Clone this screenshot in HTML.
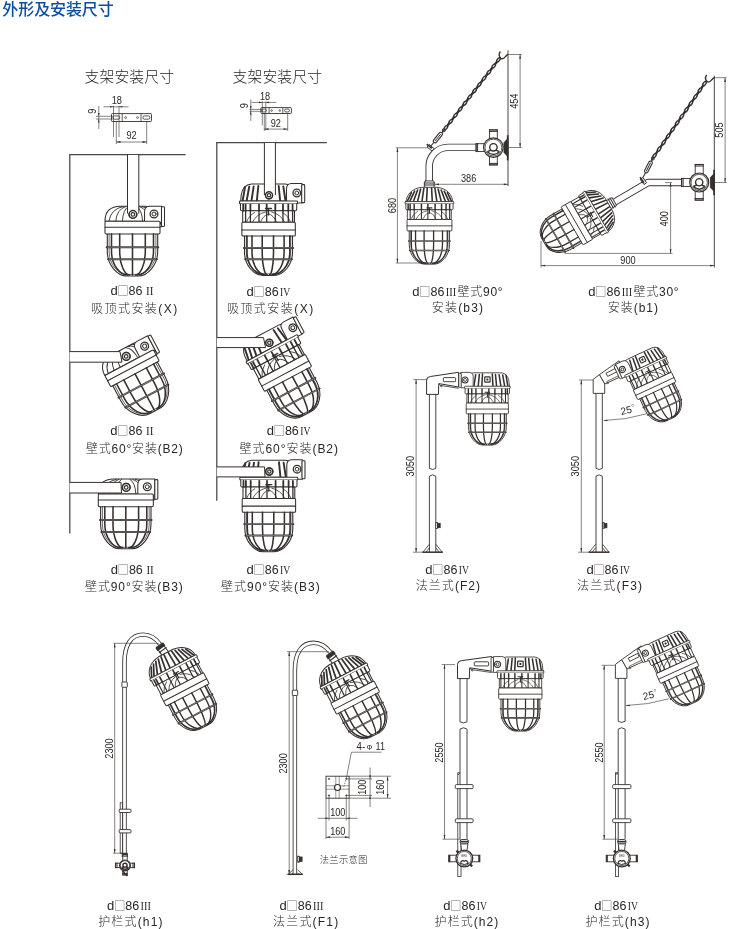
<!DOCTYPE html>
<html lang="zh"><head><meta charset="utf-8"><title>外形及安装尺寸</title>
<style>html,body{margin:0;padding:0;background:#fff}body{width:730px;height:929px;position:relative;overflow:hidden;font-family:"Liberation Sans","Noto Sans CJK SC",sans-serif}text{stroke:none}</style>
</head><body>
<svg width="730" height="929" viewBox="0 0 730 929" style="position:absolute;left:0;top:0;will-change:transform">
<g fill="none" stroke-linecap="butt">
<text x="2.30" y="14.60" font-size="16" text-anchor="start" fill="#0b4ea2" font-weight="500" font-family='"Liberation Sans","Noto Sans CJK SC",sans-serif' textLength="111.5">外形及安装尺寸</text>
<text x="84.60" y="82.00" font-size="14.8" text-anchor="start" fill="#2b2624" font-weight="300" font-family='"Liberation Sans","Noto Sans CJK SC",sans-serif' textLength="89.4">支架安装尺寸</text>
<text x="232.60" y="82.00" font-size="14.8" text-anchor="start" fill="#2b2624" font-weight="300" font-family='"Liberation Sans","Noto Sans CJK SC",sans-serif' textLength="89.4">支架安装尺寸</text>
<rect x="111.50" y="113.60" width="40.00" height="7.90" rx="0.8" stroke="#352f2d" stroke-width="0.9" fill="none"/>
<line x1="122.20" y1="113.60" x2="122.20" y2="121.50" stroke="#352f2d" stroke-width="0.8" />
<line x1="141.00" y1="113.60" x2="141.00" y2="121.50" stroke="#352f2d" stroke-width="0.8" />
<rect x="113.00" y="115.90" width="6.70" height="3.30" rx="1.5" stroke="#352f2d" stroke-width="0.8" fill="none"/>
<rect x="143.00" y="115.90" width="6.90" height="3.30" rx="1.5" stroke="#352f2d" stroke-width="0.8" fill="none"/>
<circle cx="125.60" cy="117.55" r="0.90" stroke="#352f2d" stroke-width="0.7" fill="none"/>
<circle cx="137.50" cy="117.55" r="0.90" stroke="#352f2d" stroke-width="0.7" fill="none"/>
<line x1="103.50" y1="106.80" x2="128.60" y2="106.80" stroke="#352f2d" stroke-width="0.6" />
<path d="M 113.50,106.80 L 110.10,107.60 L 110.10,106.00 Z" fill="#352f2d" stroke="none"/>
<path d="M 119.00,106.80 L 122.40,106.00 L 122.40,107.60 Z" fill="#352f2d" stroke="none"/>
<line x1="113.50" y1="105.80" x2="113.50" y2="137.00" stroke="#352f2d" stroke-width="0.6" />
<line x1="119.00" y1="105.80" x2="119.00" y2="137.00" stroke="#352f2d" stroke-width="0.6" />
<text x="111.70" y="104.20" font-size="10.0" text-anchor="start" fill="#2b2624" font-weight="400" font-family='"Liberation Sans","Noto Sans CJK SC",sans-serif' textLength="10.2" lengthAdjust="spacingAndGlyphs">18</text>
<line x1="98.80" y1="106.00" x2="98.80" y2="129.00" stroke="#352f2d" stroke-width="0.6" />
<path d="M 98.80,116.30 L 98.00,112.90 L 99.60,112.90 Z" fill="#352f2d" stroke="none"/>
<path d="M 98.80,119.00 L 99.60,122.40 L 98.00,122.40 Z" fill="#352f2d" stroke="none"/>
<line x1="96.00" y1="116.30" x2="113.00" y2="116.30" stroke="#352f2d" stroke-width="0.6" />
<line x1="96.00" y1="119.00" x2="113.00" y2="119.00" stroke="#352f2d" stroke-width="0.6" />
<text transform="translate(95.90,113.75) rotate(-90)" x="0" y="0" font-size="10.0" fill="#2b2624" font-family='"Liberation Sans","Noto Sans CJK SC",sans-serif' textLength="5.1" lengthAdjust="spacingAndGlyphs">9</text>
<line x1="116.30" y1="121.50" x2="116.30" y2="144.00" stroke="#352f2d" stroke-width="0.6" />
<line x1="146.70" y1="121.50" x2="146.70" y2="144.00" stroke="#352f2d" stroke-width="0.6" />
<line x1="116.30" y1="142.00" x2="146.70" y2="142.00" stroke="#352f2d" stroke-width="0.6" />
<path d="M 116.30,142.00 L 120.50,141.10 L 120.50,142.90 Z" fill="#352f2d" stroke="none"/>
<path d="M 146.70,142.00 L 142.50,142.90 L 142.50,141.10 Z" fill="#352f2d" stroke="none"/>
<text x="126.40" y="139.00" font-size="10.0" text-anchor="start" fill="#2b2624" font-weight="400" font-family='"Liberation Sans","Noto Sans CJK SC",sans-serif' textLength="10.2" lengthAdjust="spacingAndGlyphs">92</text>
<line x1="69.80" y1="154.70" x2="69.80" y2="533.60" stroke="#4a4544" stroke-width="1.25" />
<line x1="69.20" y1="154.70" x2="185.60" y2="154.70" stroke="#4a4544" stroke-width="1.25" />
<g transform="translate(132.50,206.20) rotate(0) scale(1.0000,1.0000)" fill="none" stroke="#352f2d" stroke-width="1.05" stroke-linecap="round" stroke-linejoin="round"><path d="M -27.5,15 C -27.5,5 -22,0 -12,0 L 12,0 C 22,0 27.5,5 27.5,15 Z" fill="#fff"/><path d="M -9.450000000000001,0.3 Q -22.05,3 -23.520000000000003,15" stroke-width="0.9"/><path d="M -6.75,0.3 Q -15.75,3 -16.8,15" stroke-width="0.9"/><path d="M -4.05,0.3 Q -9.450000000000001,3 -10.080000000000002,15" stroke-width="0.9"/><path d="M 4.05,0.3 Q 9.450000000000001,3 10.080000000000002,15" stroke-width="0.9"/><path d="M 6.75,0.3 Q 15.75,3 16.8,15" stroke-width="0.9"/><path d="M 9.450000000000001,0.3 Q 22.05,3 23.520000000000003,15" stroke-width="0.9"/><path d="M 12,15 L 12,6 Q 12,0 17,0 L 29,0 L 29,20.6 L 27.5,20.6" fill="#fff"/><rect x="29" y="0.6" width="3" height="19.6" rx="0.8" fill="#fff"/><circle cx="21.5" cy="7.8" r="3.9" fill="#fff" stroke-width="1.3"/><circle cx="21.5" cy="7.8" r="2" stroke-width="1"/><rect x="25.8" y="15.6" width="2.6" height="2.6" fill="#352f2d" stroke="none"/><circle cx="0.4" cy="8.2" r="3.8" fill="#fff" stroke-width="1.5"/><circle cx="0.4" cy="8.2" r="1.8" stroke-width="1.2"/><rect x="-27.5" y="15" width="55" height="12.8" rx="1.2" fill="#fff"/><path d="M -27.5,21 L 27.5,21"/><path d="M -25.20,27.8 L -25.20,45.02 C -25.20,58.88 -15.12,69.80 -5.80,69.80 L 5.80,69.80 C 15.12,69.80 25.20,58.88 25.20,45.02 L 25.20,27.8" stroke-width="1.1"/><path d="M -23.40,27.8 L -23.40,45.02 C -23.40,58.88 -14.04,68.20 -5.38,68.20 L 5.38,68.20 C 14.04,68.20 23.40,58.88 23.40,45.02 L 23.40,27.8" stroke-width="0.7"/><path d="M -21.00,27.8 L -21.00,45.02 C -21.00,58.88 -12.60,68.80 -4.83,68.80" stroke-width="1.55"/><path d="M -12.80,27.8 L -12.80,45.02 C -12.80,58.88 -7.68,68.80 -2.94,68.80" stroke-width="1.55"/><path d="M 0,27.8 L 0,68.8" stroke-width="1.55"/><path d="M 12.80,27.8 L 12.80,45.02 C 12.80,58.88 7.68,68.80 2.94,68.80" stroke-width="1.55"/><path d="M 21.00,27.8 L 21.00,45.02 C 21.00,58.88 12.60,68.80 4.83,68.80" stroke-width="1.55"/><path d="M -25.8,41 L 25.8,41" stroke-width="1.9500000000000002"/><path d="M -24.8,41 L 24.8,41" stroke="#fff" stroke-width="0.35"/><path d="M -24.4,53 L 24.4,53" stroke-width="1.9500000000000002"/><path d="M -23.4,53 L 23.4,53" stroke="#fff" stroke-width="0.35"/></g>
<rect x="127.9" y="155" width="10.7" height="58" fill="#fff" stroke="none"/>
<line x1="127.50" y1="154.40" x2="127.50" y2="213.50" stroke="#352f2d" stroke-width="1.0" />
<line x1="138.80" y1="154.40" x2="138.80" y2="213.50" stroke="#352f2d" stroke-width="1.0" />
<circle cx="132.90" cy="214.40" r="3.80" stroke="#352f2d" stroke-width="1.5" fill="#fff"/>
<circle cx="132.90" cy="214.40" r="1.79" stroke="#352f2d" stroke-width="1.2" fill="none"/>
<text y="295.30" font-size="13" fill="#2b2624" font-family='"Liberation Sans","Noto Sans CJK SC",sans-serif'><tspan x="110.40">d</tspan><tspan x="117.20" font-size="11.4" fill="#6f6a68" font-family='"Noto Sans CJK SC",sans-serif'>□</tspan><tspan x="128.60" textLength="13.9" lengthAdjust="spacingAndGlyphs">86</tspan><tspan x="146.10" font-size="12.6" font-family='"Liberation Serif",serif' textLength="7.4" lengthAdjust="spacingAndGlyphs">II</tspan></text>
<text x="91.00" y="312.70" font-size="12" text-anchor="start" fill="#2b2624" font-weight="300" font-family='"Liberation Sans","Noto Sans CJK SC",sans-serif' textLength="86.2">吸顶式安装(X)</text>
<g transform="translate(122.00,349.35) rotate(-28) scale(1.0000,1.0000)" fill="none" stroke="#352f2d" stroke-width="1.05" stroke-linecap="round" stroke-linejoin="round"><path d="M -27.5,15 C -27.5,5 -22,0 -12,0 L 12,0 C 22,0 27.5,5 27.5,15 Z" fill="#fff"/><path d="M -9.450000000000001,0.3 Q -22.05,3 -23.520000000000003,15" stroke-width="0.9"/><path d="M -6.75,0.3 Q -15.75,3 -16.8,15" stroke-width="0.9"/><path d="M -4.05,0.3 Q -9.450000000000001,3 -10.080000000000002,15" stroke-width="0.9"/><path d="M 4.05,0.3 Q 9.450000000000001,3 10.080000000000002,15" stroke-width="0.9"/><path d="M 6.75,0.3 Q 15.75,3 16.8,15" stroke-width="0.9"/><path d="M 9.450000000000001,0.3 Q 22.05,3 23.520000000000003,15" stroke-width="0.9"/><path d="M 12,15 L 12,6 Q 12,0 17,0 L 29,0 L 29,20.6 L 27.5,20.6" fill="#fff"/><rect x="29" y="0.6" width="3" height="19.6" rx="0.8" fill="#fff"/><circle cx="21.5" cy="7.8" r="3.9" fill="#fff" stroke-width="1.3"/><circle cx="21.5" cy="7.8" r="2" stroke-width="1"/><rect x="25.8" y="15.6" width="2.6" height="2.6" fill="#352f2d" stroke="none"/><circle cx="0.4" cy="8.2" r="3.8" fill="#fff" stroke-width="1.5"/><circle cx="0.4" cy="8.2" r="1.8" stroke-width="1.2"/><rect x="-27.5" y="15" width="55" height="12.8" rx="1.2" fill="#fff"/><path d="M -27.5,21 L 27.5,21"/><path d="M -25.20,27.8 L -25.20,45.02 C -25.20,58.88 -15.12,69.80 -5.80,69.80 L 5.80,69.80 C 15.12,69.80 25.20,58.88 25.20,45.02 L 25.20,27.8" stroke-width="1.1"/><path d="M -23.40,27.8 L -23.40,45.02 C -23.40,58.88 -14.04,68.20 -5.38,68.20 L 5.38,68.20 C 14.04,68.20 23.40,58.88 23.40,45.02 L 23.40,27.8" stroke-width="0.7"/><path d="M -21.00,27.8 L -21.00,45.02 C -21.00,58.88 -12.60,68.80 -4.83,68.80" stroke-width="1.55"/><path d="M -12.80,27.8 L -12.80,45.02 C -12.80,58.88 -7.68,68.80 -2.94,68.80" stroke-width="1.55"/><path d="M 0,27.8 L 0,68.8" stroke-width="1.55"/><path d="M 12.80,27.8 L 12.80,45.02 C 12.80,58.88 7.68,68.80 2.94,68.80" stroke-width="1.55"/><path d="M 21.00,27.8 L 21.00,45.02 C 21.00,58.88 12.60,68.80 4.83,68.80" stroke-width="1.55"/><path d="M -25.8,41 L 25.8,41" stroke-width="1.9500000000000002"/><path d="M -24.8,41 L 24.8,41" stroke="#fff" stroke-width="0.35"/><path d="M -24.4,53 L 24.4,53" stroke-width="1.9500000000000002"/><path d="M -23.4,53 L 23.4,53" stroke="#fff" stroke-width="0.35"/></g>
<path d="M 69.6,351.6 L 120,351.6 L 122,362.2 L 69.6,362.2" stroke="#352f2d" stroke-width="1" fill="#fff"/>
<circle cx="126.20" cy="356.40" r="3.80" stroke="#352f2d" stroke-width="1.5" fill="#fff"/>
<circle cx="126.20" cy="356.40" r="1.79" stroke="#352f2d" stroke-width="1.2" fill="none"/>
<text y="435.30" font-size="13" fill="#2b2624" font-family='"Liberation Sans","Noto Sans CJK SC",sans-serif'><tspan x="110.30">d</tspan><tspan x="117.10" font-size="11.4" fill="#6f6a68" font-family='"Noto Sans CJK SC",sans-serif'>□</tspan><tspan x="128.50" textLength="13.9" lengthAdjust="spacingAndGlyphs">86</tspan><tspan x="146.00" font-size="12.6" font-family='"Liberation Serif",serif' textLength="7.4" lengthAdjust="spacingAndGlyphs">II</tspan></text>
<text x="86.00" y="452.50" font-size="12" text-anchor="start" fill="#2b2624" font-weight="300" font-family='"Liberation Sans","Noto Sans CJK SC",sans-serif' textLength="96.7">壁式60°安装(B2)</text>
<g transform="translate(125.80,479.00) rotate(0) scale(1.0000,1.0000)" fill="none" stroke="#352f2d" stroke-width="1.05" stroke-linecap="round" stroke-linejoin="round"><path d="M -27.5,15 C -27.5,5 -22,0 -12,0 L 12,0 C 22,0 27.5,5 27.5,15 Z" fill="#fff"/><path d="M -9.450000000000001,0.3 Q -22.05,3 -23.520000000000003,15" stroke-width="0.9"/><path d="M -6.75,0.3 Q -15.75,3 -16.8,15" stroke-width="0.9"/><path d="M -4.05,0.3 Q -9.450000000000001,3 -10.080000000000002,15" stroke-width="0.9"/><path d="M 4.05,0.3 Q 9.450000000000001,3 10.080000000000002,15" stroke-width="0.9"/><path d="M 6.75,0.3 Q 15.75,3 16.8,15" stroke-width="0.9"/><path d="M 9.450000000000001,0.3 Q 22.05,3 23.520000000000003,15" stroke-width="0.9"/><path d="M 12,15 L 12,6 Q 12,0 17,0 L 29,0 L 29,20.6 L 27.5,20.6" fill="#fff"/><rect x="29" y="0.6" width="3" height="19.6" rx="0.8" fill="#fff"/><circle cx="21.5" cy="7.8" r="3.9" fill="#fff" stroke-width="1.3"/><circle cx="21.5" cy="7.8" r="2" stroke-width="1"/><rect x="25.8" y="15.6" width="2.6" height="2.6" fill="#352f2d" stroke="none"/><circle cx="0.4" cy="8.2" r="3.8" fill="#fff" stroke-width="1.5"/><circle cx="0.4" cy="8.2" r="1.8" stroke-width="1.2"/><rect x="-27.5" y="15" width="55" height="12.8" rx="1.2" fill="#fff"/><path d="M -27.5,21 L 27.5,21"/><path d="M -25.20,27.8 L -25.20,45.02 C -25.20,58.88 -15.12,69.80 -5.80,69.80 L 5.80,69.80 C 15.12,69.80 25.20,58.88 25.20,45.02 L 25.20,27.8" stroke-width="1.1"/><path d="M -23.40,27.8 L -23.40,45.02 C -23.40,58.88 -14.04,68.20 -5.38,68.20 L 5.38,68.20 C 14.04,68.20 23.40,58.88 23.40,45.02 L 23.40,27.8" stroke-width="0.7"/><path d="M -21.00,27.8 L -21.00,45.02 C -21.00,58.88 -12.60,68.80 -4.83,68.80" stroke-width="1.55"/><path d="M -12.80,27.8 L -12.80,45.02 C -12.80,58.88 -7.68,68.80 -2.94,68.80" stroke-width="1.55"/><path d="M 0,27.8 L 0,68.8" stroke-width="1.55"/><path d="M 12.80,27.8 L 12.80,45.02 C 12.80,58.88 7.68,68.80 2.94,68.80" stroke-width="1.55"/><path d="M 21.00,27.8 L 21.00,45.02 C 21.00,58.88 12.60,68.80 4.83,68.80" stroke-width="1.55"/><path d="M -25.8,41 L 25.8,41" stroke-width="1.9500000000000002"/><path d="M -24.8,41 L 24.8,41" stroke="#fff" stroke-width="0.35"/><path d="M -24.4,53 L 24.4,53" stroke-width="1.9500000000000002"/><path d="M -23.4,53 L 23.4,53" stroke="#fff" stroke-width="0.35"/></g>
<path d="M 69.6,482.4 L 121,482.4 L 121.5,493 L 69.6,493" stroke="#352f2d" stroke-width="1" fill="#fff"/>
<circle cx="126.20" cy="487.40" r="3.80" stroke="#352f2d" stroke-width="1.5" fill="#fff"/>
<circle cx="126.20" cy="487.40" r="1.79" stroke="#352f2d" stroke-width="1.2" fill="none"/>
<text y="574.30" font-size="13" fill="#2b2624" font-family='"Liberation Sans","Noto Sans CJK SC",sans-serif'><tspan x="110.70">d</tspan><tspan x="117.50" font-size="11.4" fill="#6f6a68" font-family='"Noto Sans CJK SC",sans-serif'>□</tspan><tspan x="128.90" textLength="13.9" lengthAdjust="spacingAndGlyphs">86</tspan><tspan x="146.40" font-size="12.6" font-family='"Liberation Serif",serif' textLength="7.4" lengthAdjust="spacingAndGlyphs">II</tspan></text>
<text x="85.00" y="591.00" font-size="12" text-anchor="start" fill="#2b2624" font-weight="300" font-family='"Liberation Sans","Noto Sans CJK SC",sans-serif' textLength="97.7">壁式90°安装(B3)</text>
<rect x="260.90" y="107.60" width="30.50" height="5.90" rx="0.7" stroke="#352f2d" stroke-width="0.9" fill="none"/>
<line x1="269.10" y1="107.60" x2="269.10" y2="113.50" stroke="#352f2d" stroke-width="0.8" />
<line x1="282.80" y1="107.60" x2="282.80" y2="113.50" stroke="#352f2d" stroke-width="0.8" />
<rect x="262.00" y="109.00" width="4.20" height="3.00" rx="1.2" stroke="#352f2d" stroke-width="0.8" fill="none"/>
<rect x="284.60" y="109.00" width="4.80" height="3.00" rx="1.4" stroke="#352f2d" stroke-width="0.8" fill="none"/>
<circle cx="271.60" cy="110.55" r="0.80" stroke="#352f2d" stroke-width="0.7" fill="none"/>
<circle cx="279.80" cy="110.55" r="0.80" stroke="#352f2d" stroke-width="0.7" fill="none"/>
<line x1="251.70" y1="102.40" x2="276.40" y2="102.40" stroke="#352f2d" stroke-width="0.6" />
<path d="M 262.30,102.40 L 258.90,103.20 L 258.90,101.60 Z" fill="#352f2d" stroke="none"/>
<path d="M 265.80,102.40 L 269.20,101.60 L 269.20,103.20 Z" fill="#352f2d" stroke="none"/>
<line x1="262.30" y1="101.40" x2="262.30" y2="125.40" stroke="#352f2d" stroke-width="0.6" />
<line x1="265.80" y1="101.40" x2="265.80" y2="130.20" stroke="#352f2d" stroke-width="0.6" />
<text x="259.90" y="99.80" font-size="10" text-anchor="start" fill="#2b2624" font-weight="400" font-family='"Liberation Sans","Noto Sans CJK SC",sans-serif' textLength="10.2" lengthAdjust="spacingAndGlyphs">18</text>
<line x1="250.80" y1="99.40" x2="250.80" y2="120.90" stroke="#352f2d" stroke-width="0.6" />
<path d="M 250.80,109.40 L 250.00,106.00 L 251.60,106.00 Z" fill="#352f2d" stroke="none"/>
<path d="M 250.80,111.30 L 251.60,114.70 L 250.00,114.70 Z" fill="#352f2d" stroke="none"/>
<line x1="249.50" y1="109.40" x2="262.00" y2="109.40" stroke="#352f2d" stroke-width="0.6" />
<line x1="249.50" y1="111.30" x2="262.00" y2="111.30" stroke="#352f2d" stroke-width="0.6" />
<text transform="translate(248.40,108.15) rotate(-90)" x="0" y="0" font-size="10" fill="#2b2624" font-family='"Liberation Sans","Noto Sans CJK SC",sans-serif' textLength="5.1" lengthAdjust="spacingAndGlyphs">9</text>
<line x1="264.30" y1="113.50" x2="264.30" y2="131.00" stroke="#352f2d" stroke-width="0.6" />
<line x1="287.70" y1="113.50" x2="287.70" y2="131.00" stroke="#352f2d" stroke-width="0.6" />
<line x1="264.30" y1="129.10" x2="287.70" y2="129.10" stroke="#352f2d" stroke-width="0.6" />
<path d="M 264.30,129.10 L 268.50,128.20 L 268.50,130.00 Z" fill="#352f2d" stroke="none"/>
<path d="M 287.70,129.10 L 283.50,130.00 L 283.50,128.20 Z" fill="#352f2d" stroke="none"/>
<text x="270.70" y="126.50" font-size="10" text-anchor="start" fill="#2b2624" font-weight="400" font-family='"Liberation Sans","Noto Sans CJK SC",sans-serif' textLength="10.2" lengthAdjust="spacingAndGlyphs">92</text>
<line x1="216.80" y1="142.50" x2="216.80" y2="500.80" stroke="#4a4544" stroke-width="1.25" />
<line x1="216.20" y1="142.50" x2="326.80" y2="142.50" stroke="#4a4544" stroke-width="1.25" />
<g transform="translate(268.50,184.00) rotate(0) scale(1.0000,1.0000)" fill="none" stroke="#352f2d" stroke-width="1.05" stroke-linecap="round" stroke-linejoin="round"><path d="M -27.8,17 L -27.3,11 C -26.3,4 -23,0.6 -17,0 L 17,0 C 23,0.6 26.3,4 27.3,11 L 27.8,17 Z" fill="#fff"/><path d="M -23.5,3.08 L -25.8,16.5" stroke-width="1.9"/><path d="M -19.3,2.7439999999999998 L -21.8,16.5" stroke-width="1.9"/><path d="M -14.8,2.3840000000000003 L -17,16.5" stroke-width="1.9"/><path d="M -10.2,2.016 L -11.6,16.5" stroke-width="1.9"/><path d="M 10.2,2.016 L 11.6,16.5" stroke-width="1.9"/><path d="M 14.8,2.3840000000000003 L 17,16.5" stroke-width="1.9"/><path d="M 19.3,2.7439999999999998 L 21.8,16.5" stroke-width="1.9"/><path d="M 23.5,3.08 L 25.8,16.5" stroke-width="1.9"/><path d="M 18,17 L 18,5 Q 18,-0.5 23,-0.5 L 33.5,-0.5 L 33.5,19 L 28,19" fill="#fff"/><rect x="33.2" y="0.6" width="3" height="18" rx="0.8" fill="#fff"/><circle cx="28.3" cy="9" r="3.8" fill="#fff" stroke-width="1.3"/><circle cx="28.3" cy="9" r="1.9" stroke-width="1"/><circle cx="0.5" cy="11.3" r="3.5" fill="#fff" stroke-width="1.4"/><circle cx="0.5" cy="11.3" r="1.6" stroke-width="1.1"/><rect x="-29" y="17" width="58" height="2.8" rx="0.8" fill="#fff"/><path d="M -28,19.8 L -28,25.6 Q -28,26.7 -26.8,26.7 L 27,26.7 Q 28.2,26.7 28.2,25.6 L 28.2,19.8" fill="#fff"/><rect x="-25.8" y="26.7" width="51.8" height="11.6" fill="#fff"/><path d="M -25.3,20.6 L -25.3,26.7" stroke-width="1.8"/><path d="M -22.9,20.6 L -22.9,26.7" stroke-width="1.8"/><path d="M -22.9,26.7 L -22.9,38.3" stroke-width="1.3"/><path d="M -18.1,20.6 L -18.1,26.7" stroke-width="1.8"/><path d="M -18.1,26.7 L -18.1,38.3" stroke-width="1.3"/><path d="M -9.5,20.6 L -9.5,26.7" stroke-width="1.8"/><path d="M -9.5,26.7 L -9.5,38.3" stroke-width="1.3"/><path d="M -1.8,20.6 L -1.8,26.7" stroke-width="1.8"/><path d="M -1.8,26.7 L -1.8,38.3" stroke-width="1.3"/><path d="M 6.8,20.6 L 6.8,26.7" stroke-width="1.8"/><path d="M 6.8,26.7 L 6.8,38.3" stroke-width="1.3"/><path d="M 14.5,20.6 L 14.5,26.7" stroke-width="1.8"/><path d="M 14.5,26.7 L 14.5,38.3" stroke-width="1.3"/><path d="M 19.8,20.6 L 19.8,26.7" stroke-width="1.8"/><path d="M 19.8,26.7 L 19.8,38.3" stroke-width="1.3"/><path d="M 24.1,20.6 L 24.1,26.7" stroke-width="1.8"/><path d="M 24.1,26.7 L 24.1,38.3" stroke-width="1.3"/><path d="M -16,38 Q -12,30 -3,28 M 16,38 Q 12,30 3,28 M -8,38 Q -5,31 0,30 Q 5,31 8,38 M -22,38 Q -20,32 -14,28.5 M 22,38 Q 20,32 14,28.5" stroke-width="0.8"/><path d="M -3,24.5 L 3,24.5 M 0,24.5 L 0,31" stroke-width="1.3"/><rect x="-26.6" y="38.3" width="53.4" height="13.7" rx="1" fill="#fff"/><path d="M -26.6,45.9 L 26.8,45.9"/><path d="M -24.00,52 L -24.00,68.19 C -24.00,81.23 -14.40,91.50 -5.52,91.50 L 5.52,91.50 C 14.40,91.50 24.00,81.23 24.00,68.19 L 24.00,52" stroke-width="1.1"/><path d="M -22.20,52 L -22.20,68.19 C -22.20,81.23 -13.32,89.90 -5.11,89.90 L 5.11,89.90 C 13.32,89.90 22.20,81.23 22.20,68.19 L 22.20,52" stroke-width="0.7"/><path d="M -21.50,52 L -21.50,68.19 C -21.50,81.23 -12.90,90.50 -4.95,90.50" stroke-width="1.55"/><path d="M -16.50,52 L -16.50,68.19 C -16.50,81.23 -9.90,90.50 -3.80,90.50" stroke-width="1.55"/><path d="M -6.30,52 L -6.30,68.19 C -6.30,81.23 -3.78,90.50 -1.45,90.50" stroke-width="1.55"/><path d="M 5.00,52 L 5.00,68.19 C 5.00,81.23 3.00,90.50 1.15,90.50" stroke-width="1.55"/><path d="M 15.60,52 L 15.60,68.19 C 15.60,81.23 9.36,90.50 3.59,90.50" stroke-width="1.55"/><path d="M 21.30,52 L 21.30,68.19 C 21.30,81.23 12.78,90.50 4.90,90.50" stroke-width="1.55"/><path d="M -24.6,63.9 L 24.6,63.9" stroke-width="1.9500000000000002"/><path d="M -23.6,63.9 L 23.6,63.9" stroke="#fff" stroke-width="0.35"/><path d="M -23.4,75.2 L 23.4,75.2" stroke-width="1.9500000000000002"/><path d="M -22.4,75.2 L 22.4,75.2" stroke="#fff" stroke-width="0.35"/></g>
<rect x="264.8" y="143" width="10.2" height="52" fill="#fff" stroke="none"/>
<line x1="264.40" y1="142.50" x2="264.40" y2="195.00" stroke="#352f2d" stroke-width="1.0" />
<line x1="275.40" y1="142.50" x2="275.40" y2="195.00" stroke="#352f2d" stroke-width="1.0" />
<circle cx="269.00" cy="195.30" r="3.50" stroke="#352f2d" stroke-width="1.5" fill="#fff"/>
<circle cx="269.00" cy="195.30" r="1.65" stroke="#352f2d" stroke-width="1.2" fill="none"/>
<text y="296.00" font-size="13" fill="#2b2624" font-family='"Liberation Sans","Noto Sans CJK SC",sans-serif'><tspan x="246.50">d</tspan><tspan x="253.30" font-size="11.4" fill="#6f6a68" font-family='"Noto Sans CJK SC",sans-serif'>□</tspan><tspan x="264.70" textLength="13.9" lengthAdjust="spacingAndGlyphs">86</tspan><tspan x="280.00" font-size="12.6" font-family='"Liberation Serif",serif' textLength="10.2" lengthAdjust="spacingAndGlyphs">IV</tspan></text>
<text x="226.90" y="312.70" font-size="12" text-anchor="start" fill="#2b2624" font-weight="300" font-family='"Liberation Sans","Noto Sans CJK SC",sans-serif' textLength="86.3">吸顶式安装(X)</text>
<g transform="translate(263.60,333.10) rotate(-28) scale(1.0000,1.0000)" fill="none" stroke="#352f2d" stroke-width="1.05" stroke-linecap="round" stroke-linejoin="round"><path d="M -27.8,17 L -27.3,11 C -26.3,4 -23,0.6 -17,0 L 17,0 C 23,0.6 26.3,4 27.3,11 L 27.8,17 Z" fill="#fff"/><path d="M -23.5,3.08 L -25.8,16.5" stroke-width="1.9"/><path d="M -19.3,2.7439999999999998 L -21.8,16.5" stroke-width="1.9"/><path d="M -14.8,2.3840000000000003 L -17,16.5" stroke-width="1.9"/><path d="M -10.2,2.016 L -11.6,16.5" stroke-width="1.9"/><path d="M 10.2,2.016 L 11.6,16.5" stroke-width="1.9"/><path d="M 14.8,2.3840000000000003 L 17,16.5" stroke-width="1.9"/><path d="M 19.3,2.7439999999999998 L 21.8,16.5" stroke-width="1.9"/><path d="M 23.5,3.08 L 25.8,16.5" stroke-width="1.9"/><path d="M 18,17 L 18,5 Q 18,-0.5 23,-0.5 L 33.5,-0.5 L 33.5,19 L 28,19" fill="#fff"/><rect x="33.2" y="0.6" width="3" height="18" rx="0.8" fill="#fff"/><circle cx="28.3" cy="9" r="3.8" fill="#fff" stroke-width="1.3"/><circle cx="28.3" cy="9" r="1.9" stroke-width="1"/><circle cx="0.5" cy="11.3" r="3.5" fill="#fff" stroke-width="1.4"/><circle cx="0.5" cy="11.3" r="1.6" stroke-width="1.1"/><rect x="-29" y="17" width="58" height="2.8" rx="0.8" fill="#fff"/><path d="M -28,19.8 L -28,25.6 Q -28,26.7 -26.8,26.7 L 27,26.7 Q 28.2,26.7 28.2,25.6 L 28.2,19.8" fill="#fff"/><rect x="-25.8" y="26.7" width="51.8" height="11.6" fill="#fff"/><path d="M -25.3,20.6 L -25.3,26.7" stroke-width="1.8"/><path d="M -22.9,20.6 L -22.9,26.7" stroke-width="1.8"/><path d="M -22.9,26.7 L -22.9,38.3" stroke-width="1.3"/><path d="M -18.1,20.6 L -18.1,26.7" stroke-width="1.8"/><path d="M -18.1,26.7 L -18.1,38.3" stroke-width="1.3"/><path d="M -9.5,20.6 L -9.5,26.7" stroke-width="1.8"/><path d="M -9.5,26.7 L -9.5,38.3" stroke-width="1.3"/><path d="M -1.8,20.6 L -1.8,26.7" stroke-width="1.8"/><path d="M -1.8,26.7 L -1.8,38.3" stroke-width="1.3"/><path d="M 6.8,20.6 L 6.8,26.7" stroke-width="1.8"/><path d="M 6.8,26.7 L 6.8,38.3" stroke-width="1.3"/><path d="M 14.5,20.6 L 14.5,26.7" stroke-width="1.8"/><path d="M 14.5,26.7 L 14.5,38.3" stroke-width="1.3"/><path d="M 19.8,20.6 L 19.8,26.7" stroke-width="1.8"/><path d="M 19.8,26.7 L 19.8,38.3" stroke-width="1.3"/><path d="M 24.1,20.6 L 24.1,26.7" stroke-width="1.8"/><path d="M 24.1,26.7 L 24.1,38.3" stroke-width="1.3"/><path d="M -16,38 Q -12,30 -3,28 M 16,38 Q 12,30 3,28 M -8,38 Q -5,31 0,30 Q 5,31 8,38 M -22,38 Q -20,32 -14,28.5 M 22,38 Q 20,32 14,28.5" stroke-width="0.8"/><path d="M -3,24.5 L 3,24.5 M 0,24.5 L 0,31" stroke-width="1.3"/><rect x="-26.6" y="38.3" width="53.4" height="13.7" rx="1" fill="#fff"/><path d="M -26.6,45.9 L 26.8,45.9"/><path d="M -24.00,52 L -24.00,68.19 C -24.00,81.23 -14.40,91.50 -5.52,91.50 L 5.52,91.50 C 14.40,91.50 24.00,81.23 24.00,68.19 L 24.00,52" stroke-width="1.1"/><path d="M -22.20,52 L -22.20,68.19 C -22.20,81.23 -13.32,89.90 -5.11,89.90 L 5.11,89.90 C 13.32,89.90 22.20,81.23 22.20,68.19 L 22.20,52" stroke-width="0.7"/><path d="M -21.50,52 L -21.50,68.19 C -21.50,81.23 -12.90,90.50 -4.95,90.50" stroke-width="1.55"/><path d="M -16.50,52 L -16.50,68.19 C -16.50,81.23 -9.90,90.50 -3.80,90.50" stroke-width="1.55"/><path d="M -6.30,52 L -6.30,68.19 C -6.30,81.23 -3.78,90.50 -1.45,90.50" stroke-width="1.55"/><path d="M 5.00,52 L 5.00,68.19 C 5.00,81.23 3.00,90.50 1.15,90.50" stroke-width="1.55"/><path d="M 15.60,52 L 15.60,68.19 C 15.60,81.23 9.36,90.50 3.59,90.50" stroke-width="1.55"/><path d="M 21.30,52 L 21.30,68.19 C 21.30,81.23 12.78,90.50 4.90,90.50" stroke-width="1.55"/><path d="M -24.6,63.9 L 24.6,63.9" stroke-width="1.9500000000000002"/><path d="M -23.6,63.9 L 23.6,63.9" stroke="#fff" stroke-width="0.35"/><path d="M -23.4,75.2 L 23.4,75.2" stroke-width="1.9500000000000002"/><path d="M -22.4,75.2 L 22.4,75.2" stroke="#fff" stroke-width="0.35"/></g>
<path d="M 216.8,337.6 L 263.5,337.6 L 265.5,347.6 L 216.8,347.6" stroke="#352f2d" stroke-width="1" fill="#fff"/>
<circle cx="269.30" cy="342.80" r="3.50" stroke="#352f2d" stroke-width="1.5" fill="#fff"/>
<circle cx="269.30" cy="342.80" r="1.65" stroke="#352f2d" stroke-width="1.2" fill="none"/>
<text y="435.30" font-size="13" fill="#2b2624" font-family='"Liberation Sans","Noto Sans CJK SC",sans-serif'><tspan x="266.70">d</tspan><tspan x="273.50" font-size="11.4" fill="#6f6a68" font-family='"Noto Sans CJK SC",sans-serif'>□</tspan><tspan x="284.90" textLength="13.9" lengthAdjust="spacingAndGlyphs">86</tspan><tspan x="300.20" font-size="12.6" font-family='"Liberation Serif",serif' textLength="10.2" lengthAdjust="spacingAndGlyphs">IV</tspan></text>
<text x="239.50" y="452.50" font-size="12" text-anchor="start" fill="#2b2624" font-weight="300" font-family='"Liberation Sans","Noto Sans CJK SC",sans-serif' textLength="98.5">壁式60°安装(B2)</text>
<g transform="translate(268.80,460.20) rotate(0) scale(1.0000,1.0000)" fill="none" stroke="#352f2d" stroke-width="1.05" stroke-linecap="round" stroke-linejoin="round"><path d="M -27.8,17 L -27.3,11 C -26.3,4 -23,0.6 -17,0 L 17,0 C 23,0.6 26.3,4 27.3,11 L 27.8,17 Z" fill="#fff"/><path d="M -23.5,3.08 L -25.8,16.5" stroke-width="1.9"/><path d="M -19.3,2.7439999999999998 L -21.8,16.5" stroke-width="1.9"/><path d="M -14.8,2.3840000000000003 L -17,16.5" stroke-width="1.9"/><path d="M -10.2,2.016 L -11.6,16.5" stroke-width="1.9"/><path d="M 10.2,2.016 L 11.6,16.5" stroke-width="1.9"/><path d="M 14.8,2.3840000000000003 L 17,16.5" stroke-width="1.9"/><path d="M 19.3,2.7439999999999998 L 21.8,16.5" stroke-width="1.9"/><path d="M 23.5,3.08 L 25.8,16.5" stroke-width="1.9"/><path d="M 18,17 L 18,5 Q 18,-0.5 23,-0.5 L 33.5,-0.5 L 33.5,19 L 28,19" fill="#fff"/><rect x="33.2" y="0.6" width="3" height="18" rx="0.8" fill="#fff"/><circle cx="28.3" cy="9" r="3.8" fill="#fff" stroke-width="1.3"/><circle cx="28.3" cy="9" r="1.9" stroke-width="1"/><circle cx="0.5" cy="11.3" r="3.5" fill="#fff" stroke-width="1.4"/><circle cx="0.5" cy="11.3" r="1.6" stroke-width="1.1"/><rect x="-29" y="17" width="58" height="2.8" rx="0.8" fill="#fff"/><path d="M -28,19.8 L -28,25.6 Q -28,26.7 -26.8,26.7 L 27,26.7 Q 28.2,26.7 28.2,25.6 L 28.2,19.8" fill="#fff"/><rect x="-25.8" y="26.7" width="51.8" height="11.6" fill="#fff"/><path d="M -25.3,20.6 L -25.3,26.7" stroke-width="1.8"/><path d="M -22.9,20.6 L -22.9,26.7" stroke-width="1.8"/><path d="M -22.9,26.7 L -22.9,38.3" stroke-width="1.3"/><path d="M -18.1,20.6 L -18.1,26.7" stroke-width="1.8"/><path d="M -18.1,26.7 L -18.1,38.3" stroke-width="1.3"/><path d="M -9.5,20.6 L -9.5,26.7" stroke-width="1.8"/><path d="M -9.5,26.7 L -9.5,38.3" stroke-width="1.3"/><path d="M -1.8,20.6 L -1.8,26.7" stroke-width="1.8"/><path d="M -1.8,26.7 L -1.8,38.3" stroke-width="1.3"/><path d="M 6.8,20.6 L 6.8,26.7" stroke-width="1.8"/><path d="M 6.8,26.7 L 6.8,38.3" stroke-width="1.3"/><path d="M 14.5,20.6 L 14.5,26.7" stroke-width="1.8"/><path d="M 14.5,26.7 L 14.5,38.3" stroke-width="1.3"/><path d="M 19.8,20.6 L 19.8,26.7" stroke-width="1.8"/><path d="M 19.8,26.7 L 19.8,38.3" stroke-width="1.3"/><path d="M 24.1,20.6 L 24.1,26.7" stroke-width="1.8"/><path d="M 24.1,26.7 L 24.1,38.3" stroke-width="1.3"/><path d="M -16,38 Q -12,30 -3,28 M 16,38 Q 12,30 3,28 M -8,38 Q -5,31 0,30 Q 5,31 8,38 M -22,38 Q -20,32 -14,28.5 M 22,38 Q 20,32 14,28.5" stroke-width="0.8"/><path d="M -3,24.5 L 3,24.5 M 0,24.5 L 0,31" stroke-width="1.3"/><rect x="-26.6" y="38.3" width="53.4" height="13.7" rx="1" fill="#fff"/><path d="M -26.6,45.9 L 26.8,45.9"/><path d="M -24.00,52 L -24.00,68.19 C -24.00,81.23 -14.40,91.50 -5.52,91.50 L 5.52,91.50 C 14.40,91.50 24.00,81.23 24.00,68.19 L 24.00,52" stroke-width="1.1"/><path d="M -22.20,52 L -22.20,68.19 C -22.20,81.23 -13.32,89.90 -5.11,89.90 L 5.11,89.90 C 13.32,89.90 22.20,81.23 22.20,68.19 L 22.20,52" stroke-width="0.7"/><path d="M -21.50,52 L -21.50,68.19 C -21.50,81.23 -12.90,90.50 -4.95,90.50" stroke-width="1.55"/><path d="M -16.50,52 L -16.50,68.19 C -16.50,81.23 -9.90,90.50 -3.80,90.50" stroke-width="1.55"/><path d="M -6.30,52 L -6.30,68.19 C -6.30,81.23 -3.78,90.50 -1.45,90.50" stroke-width="1.55"/><path d="M 5.00,52 L 5.00,68.19 C 5.00,81.23 3.00,90.50 1.15,90.50" stroke-width="1.55"/><path d="M 15.60,52 L 15.60,68.19 C 15.60,81.23 9.36,90.50 3.59,90.50" stroke-width="1.55"/><path d="M 21.30,52 L 21.30,68.19 C 21.30,81.23 12.78,90.50 4.90,90.50" stroke-width="1.55"/><path d="M -24.6,63.9 L 24.6,63.9" stroke-width="1.9500000000000002"/><path d="M -23.6,63.9 L 23.6,63.9" stroke="#fff" stroke-width="0.35"/><path d="M -23.4,75.2 L 23.4,75.2" stroke-width="1.9500000000000002"/><path d="M -22.4,75.2 L 22.4,75.2" stroke="#fff" stroke-width="0.35"/></g>
<path d="M 216.8,466.9 L 264.5,466.9 L 265,476.9 L 216.8,476.9" stroke="#352f2d" stroke-width="1" fill="#fff"/>
<circle cx="269.30" cy="471.50" r="3.50" stroke="#352f2d" stroke-width="1.5" fill="#fff"/>
<circle cx="269.30" cy="471.50" r="1.65" stroke="#352f2d" stroke-width="1.2" fill="none"/>
<text y="574.30" font-size="13" fill="#2b2624" font-family='"Liberation Sans","Noto Sans CJK SC",sans-serif'><tspan x="246.50">d</tspan><tspan x="253.30" font-size="11.4" fill="#6f6a68" font-family='"Noto Sans CJK SC",sans-serif'>□</tspan><tspan x="264.70" textLength="13.9" lengthAdjust="spacingAndGlyphs">86</tspan><tspan x="280.00" font-size="12.6" font-family='"Liberation Serif",serif' textLength="10.2" lengthAdjust="spacingAndGlyphs">IV</tspan></text>
<text x="221.00" y="591.00" font-size="12" text-anchor="start" fill="#2b2624" font-weight="300" font-family='"Liberation Sans","Noto Sans CJK SC",sans-serif' textLength="98.7">壁式90°安装(B3)</text>
<line x1="508.00" y1="50.30" x2="508.00" y2="186.00" stroke="#352f2d" stroke-width="0.9" />
<path d="M 508.00,54.50 C 505.50,55.00 505.00,59.00 502.00,58.80 L 499.60,57.80 M 500.80,58.30 C 498.50,56.00 499.00,53.50 500.40,51.50" stroke="#352f2d" stroke-width="1.4" fill="none" />
<line x1="499.60" y1="58.40" x2="444.70" y2="129.20" stroke="#352f2d" stroke-width="1.2" />
<ellipse cx="498.41" cy="59.94" rx="2.42" ry="1.2" transform="rotate(127.8 498.41 59.94)" stroke="#352f2d" stroke-width="1.45" fill="#fff"/>
<ellipse cx="496.02" cy="63.02" rx="1.95" ry="0.7" transform="rotate(127.8 496.02 63.02)" stroke="#352f2d" stroke-width="1.0" fill="#352f2d"/>
<ellipse cx="493.63" cy="66.10" rx="2.42" ry="1.2" transform="rotate(127.8 493.63 66.10)" stroke="#352f2d" stroke-width="1.45" fill="#fff"/>
<ellipse cx="491.25" cy="69.17" rx="1.95" ry="0.7" transform="rotate(127.8 491.25 69.17)" stroke="#352f2d" stroke-width="1.0" fill="#352f2d"/>
<ellipse cx="488.86" cy="72.25" rx="2.42" ry="1.2" transform="rotate(127.8 488.86 72.25)" stroke="#352f2d" stroke-width="1.45" fill="#fff"/>
<ellipse cx="486.47" cy="75.33" rx="1.95" ry="0.7" transform="rotate(127.8 486.47 75.33)" stroke="#352f2d" stroke-width="1.0" fill="#352f2d"/>
<ellipse cx="484.08" cy="78.41" rx="2.42" ry="1.2" transform="rotate(127.8 484.08 78.41)" stroke="#352f2d" stroke-width="1.45" fill="#fff"/>
<ellipse cx="481.70" cy="81.49" rx="1.95" ry="0.7" transform="rotate(127.8 481.70 81.49)" stroke="#352f2d" stroke-width="1.0" fill="#352f2d"/>
<ellipse cx="479.31" cy="84.57" rx="2.42" ry="1.2" transform="rotate(127.8 479.31 84.57)" stroke="#352f2d" stroke-width="1.45" fill="#fff"/>
<ellipse cx="476.92" cy="87.64" rx="1.95" ry="0.7" transform="rotate(127.8 476.92 87.64)" stroke="#352f2d" stroke-width="1.0" fill="#352f2d"/>
<ellipse cx="474.54" cy="90.72" rx="2.42" ry="1.2" transform="rotate(127.8 474.54 90.72)" stroke="#352f2d" stroke-width="1.45" fill="#fff"/>
<ellipse cx="472.15" cy="93.80" rx="1.95" ry="0.7" transform="rotate(127.8 472.15 93.80)" stroke="#352f2d" stroke-width="1.0" fill="#352f2d"/>
<ellipse cx="469.76" cy="96.88" rx="2.42" ry="1.2" transform="rotate(127.8 469.76 96.88)" stroke="#352f2d" stroke-width="1.45" fill="#fff"/>
<ellipse cx="467.38" cy="99.96" rx="1.95" ry="0.7" transform="rotate(127.8 467.38 99.96)" stroke="#352f2d" stroke-width="1.0" fill="#352f2d"/>
<ellipse cx="464.99" cy="103.03" rx="2.42" ry="1.2" transform="rotate(127.8 464.99 103.03)" stroke="#352f2d" stroke-width="1.45" fill="#fff"/>
<ellipse cx="462.60" cy="106.11" rx="1.95" ry="0.7" transform="rotate(127.8 462.60 106.11)" stroke="#352f2d" stroke-width="1.0" fill="#352f2d"/>
<ellipse cx="460.22" cy="109.19" rx="2.42" ry="1.2" transform="rotate(127.8 460.22 109.19)" stroke="#352f2d" stroke-width="1.45" fill="#fff"/>
<ellipse cx="457.83" cy="112.27" rx="1.95" ry="0.7" transform="rotate(127.8 457.83 112.27)" stroke="#352f2d" stroke-width="1.0" fill="#352f2d"/>
<ellipse cx="455.44" cy="115.35" rx="2.42" ry="1.2" transform="rotate(127.8 455.44 115.35)" stroke="#352f2d" stroke-width="1.45" fill="#fff"/>
<ellipse cx="453.05" cy="118.43" rx="1.95" ry="0.7" transform="rotate(127.8 453.05 118.43)" stroke="#352f2d" stroke-width="1.0" fill="#352f2d"/>
<ellipse cx="450.67" cy="121.50" rx="2.42" ry="1.2" transform="rotate(127.8 450.67 121.50)" stroke="#352f2d" stroke-width="1.45" fill="#fff"/>
<ellipse cx="448.28" cy="124.58" rx="1.95" ry="0.7" transform="rotate(127.8 448.28 124.58)" stroke="#352f2d" stroke-width="1.0" fill="#352f2d"/>
<ellipse cx="445.89" cy="127.66" rx="2.42" ry="1.2" transform="rotate(127.8 445.89 127.66)" stroke="#352f2d" stroke-width="1.45" fill="#fff"/>
<g transform="translate(444.70,129.20) rotate(129.4)" stroke="#352f2d" fill="none"><path d="M 0,0 L 22.38,0" stroke-width="1.1"/><rect x="4.48" y="-1.8" width="12.53" height="3.6" rx="1.8" stroke-width="1.1" fill="#fff"/><path d="M 6.04,0 L 15.44,0" stroke-width="0.9"/><circle cx="1.4" cy="0" r="1.4" stroke-width="1"/></g>
<path d="M 479,147.4 L 448,147.4 A 18.8 18.8 0 0 0 429.2,166.2 L 429.2,181" stroke="#352f2d" stroke-width="7.40" fill="none" stroke-linecap="butt" stroke-linejoin="round"/>
<path d="M 479,147.4 L 448,147.4 A 18.8 18.8 0 0 0 429.2,166.2 L 429.2,181" stroke="#fff" stroke-width="5.60" fill="none" stroke-linecap="butt" stroke-linejoin="round"/>
<rect x="-3.2" y="-1.6" width="6.4" height="3.2" transform="translate(430.6,147.8) rotate(40)" fill="#fff" stroke="#352f2d" stroke-width="0.9"/>
<rect x="-3.4" y="-0.8" width="6.8" height="1.6" transform="translate(429.4,146.2) rotate(40)" fill="#352f2d" stroke="none"/>
<path d="M 507.8,138.5 L 504,142.5 L 504,152.5 L 507.8,156.5 Z" stroke="#352f2d" stroke-width="0.8" fill="#352f2d" />
<rect x="489.50" y="129.80" width="7.80" height="9.00" rx="0" stroke="#352f2d" stroke-width="0.9" fill="#fff"/>
<line x1="488.90" y1="131.40" x2="497.90" y2="131.40" stroke="#352f2d" stroke-width="1.0" />
<line x1="488.90" y1="130.00" x2="497.90" y2="130.00" stroke="#352f2d" stroke-width="1.0" />
<rect x="489.50" y="156.40" width="7.80" height="8.60" rx="0" stroke="#352f2d" stroke-width="0.9" fill="#fff"/>
<line x1="488.90" y1="163.40" x2="497.90" y2="163.40" stroke="#352f2d" stroke-width="1.0" />
<line x1="488.90" y1="164.80" x2="497.90" y2="164.80" stroke="#352f2d" stroke-width="1.0" />
<rect x="476.00" y="143.70" width="8.60" height="7.80" rx="0" stroke="#352f2d" stroke-width="0.9" fill="#fff"/>
<line x1="477.60" y1="143.10" x2="477.60" y2="152.10" stroke="#352f2d" stroke-width="1.0" />
<line x1="476.20" y1="143.10" x2="476.20" y2="152.10" stroke="#352f2d" stroke-width="1.0" />
<circle cx="493.40" cy="147.60" r="9.80" stroke="#352f2d" stroke-width="1.2" fill="#fff"/>
<circle cx="493.40" cy="147.60" r="8.43" stroke="#352f2d" stroke-width="0.8" fill="none"/>
<circle cx="493.40" cy="147.31" r="3.72" stroke="#352f2d" stroke-width="1.4" fill="none"/>
<path d="M 487.32,151.72 Q 493.40,157.20 499.48,151.72 M 487.32,151.72 L 491.05,150.05 M 499.48,151.72 L 495.75,150.05" stroke="#352f2d" stroke-width="1.4" fill="none" />
<line x1="507.70" y1="135.20" x2="507.70" y2="160.40" stroke="#352f2d" stroke-width="1.7" />
<g transform="translate(429.40,187.30) rotate(0) scale(0.8400,0.8400)" fill="none" stroke="#352f2d" stroke-width="1.05" stroke-linecap="round" stroke-linejoin="round"><rect x="-5.6" y="-7.6" width="11.2" height="8.6" rx="0.8" fill="#fff" stroke-width="1.1"/><path d="M -6.4,-5.2 L 6.4,-5.2 M -6.4,-2.6 L 6.4,-2.6" stroke-width="1.2"/><path d="M -27.8,17 C -27.4,9 -21,1.2 -9,0 L 9,0 C 21,1.2 27.4,9 27.8,17 Z" fill="#fff"/><path d="M -2.6,0.9 L -3.4,16.5" stroke-width="1.9"/><path d="M 2.6,0.9 L 3.4,16.5" stroke-width="1.9"/><path d="M -6.6,1.3 L -8.8,16.5" stroke-width="1.9"/><path d="M 6.6,1.3 L 8.8,16.5" stroke-width="1.9"/><path d="M -10.4,2.1 L -14.0,16.5" stroke-width="1.9"/><path d="M 10.4,2.1 L 14.0,16.5" stroke-width="1.9"/><path d="M -14.0,3.2 L -19.0,16.5" stroke-width="1.9"/><path d="M 14.0,3.2 L 19.0,16.5" stroke-width="1.9"/><path d="M -17.6,4.6 L -23.2,16.5" stroke-width="1.9"/><path d="M 17.6,4.6 L 23.2,16.5" stroke-width="1.9"/><path d="M -21.4,6.4 L -26.2,16.5" stroke-width="1.9"/><path d="M 21.4,6.4 L 26.2,16.5" stroke-width="1.9"/><rect x="-29" y="17" width="58" height="2.8" rx="0.8" fill="#fff"/><path d="M -28,19.8 L -28,25.6 Q -28,26.7 -26.8,26.7 L 27,26.7 Q 28.2,26.7 28.2,25.6 L 28.2,19.8" fill="#fff"/><rect x="-25.8" y="26.7" width="51.8" height="11.6" fill="#fff"/><path d="M -25.3,20.6 L -25.3,26.7" stroke-width="1.8"/><path d="M -22.9,20.6 L -22.9,26.7" stroke-width="1.8"/><path d="M -22.9,26.7 L -22.9,38.3" stroke-width="1.3"/><path d="M -18.1,20.6 L -18.1,26.7" stroke-width="1.8"/><path d="M -18.1,26.7 L -18.1,38.3" stroke-width="1.3"/><path d="M -9.5,20.6 L -9.5,26.7" stroke-width="1.8"/><path d="M -9.5,26.7 L -9.5,38.3" stroke-width="1.3"/><path d="M -1.8,20.6 L -1.8,26.7" stroke-width="1.8"/><path d="M -1.8,26.7 L -1.8,38.3" stroke-width="1.3"/><path d="M 6.8,20.6 L 6.8,26.7" stroke-width="1.8"/><path d="M 6.8,26.7 L 6.8,38.3" stroke-width="1.3"/><path d="M 14.5,20.6 L 14.5,26.7" stroke-width="1.8"/><path d="M 14.5,26.7 L 14.5,38.3" stroke-width="1.3"/><path d="M 19.8,20.6 L 19.8,26.7" stroke-width="1.8"/><path d="M 19.8,26.7 L 19.8,38.3" stroke-width="1.3"/><path d="M 24.1,20.6 L 24.1,26.7" stroke-width="1.8"/><path d="M 24.1,26.7 L 24.1,38.3" stroke-width="1.3"/><path d="M -16,38 Q -12,30 -3,28 M 16,38 Q 12,30 3,28 M -8,38 Q -5,31 0,30 Q 5,31 8,38 M -22,38 Q -20,32 -14,28.5 M 22,38 Q 20,32 14,28.5" stroke-width="0.8"/><path d="M -3,24.5 L 3,24.5 M 0,24.5 L 0,31" stroke-width="1.3"/><rect x="-26.6" y="38.3" width="53.4" height="13.7" rx="1" fill="#fff"/><path d="M -26.6,45.9 L 26.8,45.9"/><path d="M -24.00,52 L -24.00,68.19 C -24.00,81.23 -14.40,91.50 -5.52,91.50 L 5.52,91.50 C 14.40,91.50 24.00,81.23 24.00,68.19 L 24.00,52" stroke-width="1.1"/><path d="M -22.20,52 L -22.20,68.19 C -22.20,81.23 -13.32,89.90 -5.11,89.90 L 5.11,89.90 C 13.32,89.90 22.20,81.23 22.20,68.19 L 22.20,52" stroke-width="0.7"/><path d="M -21.50,52 L -21.50,68.19 C -21.50,81.23 -12.90,90.50 -4.95,90.50" stroke-width="1.55"/><path d="M -16.50,52 L -16.50,68.19 C -16.50,81.23 -9.90,90.50 -3.80,90.50" stroke-width="1.55"/><path d="M -6.30,52 L -6.30,68.19 C -6.30,81.23 -3.78,90.50 -1.45,90.50" stroke-width="1.55"/><path d="M 5.00,52 L 5.00,68.19 C 5.00,81.23 3.00,90.50 1.15,90.50" stroke-width="1.55"/><path d="M 15.60,52 L 15.60,68.19 C 15.60,81.23 9.36,90.50 3.59,90.50" stroke-width="1.55"/><path d="M 21.30,52 L 21.30,68.19 C 21.30,81.23 12.78,90.50 4.90,90.50" stroke-width="1.55"/><path d="M -24.6,63.9 L 24.6,63.9" stroke-width="1.9500000000000002"/><path d="M -23.6,63.9 L 23.6,63.9" stroke="#fff" stroke-width="0.35"/><path d="M -23.4,75.2 L 23.4,75.2" stroke-width="1.9500000000000002"/><path d="M -22.4,75.2 L 22.4,75.2" stroke="#fff" stroke-width="0.35"/></g>
<line x1="508.00" y1="54.50" x2="521.80" y2="54.50" stroke="#352f2d" stroke-width="0.6" />
<line x1="508.00" y1="147.50" x2="521.80" y2="147.50" stroke="#352f2d" stroke-width="0.6" />
<line x1="520.10" y1="54.50" x2="520.10" y2="147.50" stroke="#352f2d" stroke-width="0.6" />
<path d="M 520.10,54.50 L 521.00,58.70 L 519.20,58.70 Z" fill="#352f2d" stroke="none"/>
<path d="M 520.10,147.50 L 519.20,143.30 L 521.00,143.30 Z" fill="#352f2d" stroke="none"/>
<text transform="translate(518.30,108.85) rotate(-90)" x="0" y="0" font-size="10" fill="#2b2624" font-family='"Liberation Sans","Noto Sans CJK SC",sans-serif' textLength="15.3" lengthAdjust="spacingAndGlyphs">454</text>
<line x1="434.80" y1="184.30" x2="508.00" y2="184.30" stroke="#352f2d" stroke-width="0.6" />
<path d="M 434.80,184.30 L 439.00,183.40 L 439.00,185.20 Z" fill="#352f2d" stroke="none"/>
<path d="M 508.00,184.30 L 503.80,185.20 L 503.80,183.40 Z" fill="#352f2d" stroke="none"/>
<text x="460.95" y="182.00" font-size="10" text-anchor="start" fill="#2b2624" font-weight="400" font-family='"Liberation Sans","Noto Sans CJK SC",sans-serif' textLength="15.3" lengthAdjust="spacingAndGlyphs">386</text>
<line x1="395.80" y1="147.80" x2="428.00" y2="147.80" stroke="#352f2d" stroke-width="0.6" />
<line x1="395.80" y1="263.00" x2="426.00" y2="263.00" stroke="#352f2d" stroke-width="0.6" />
<line x1="397.40" y1="147.80" x2="397.40" y2="263.00" stroke="#352f2d" stroke-width="0.6" />
<path d="M 397.40,147.80 L 398.30,152.00 L 396.50,152.00 Z" fill="#352f2d" stroke="none"/>
<path d="M 397.40,263.00 L 396.50,258.80 L 398.30,258.80 Z" fill="#352f2d" stroke="none"/>
<text transform="translate(395.80,213.15) rotate(-90)" x="0" y="0" font-size="10" fill="#2b2624" font-family='"Liberation Sans","Noto Sans CJK SC",sans-serif' textLength="15.3" lengthAdjust="spacingAndGlyphs">680</text>
<text y="295.60" font-size="13" fill="#2b2624" font-family='"Liberation Sans","Noto Sans CJK SC",sans-serif'><tspan x="412.30">d</tspan><tspan x="419.10" font-size="11.4" fill="#6f6a68" font-family='"Noto Sans CJK SC",sans-serif'>□</tspan><tspan x="430.50" textLength="13.9" lengthAdjust="spacingAndGlyphs">86</tspan><tspan x="445.80" font-size="12.6" font-family='"Liberation Serif",serif' textLength="10.4" lengthAdjust="spacingAndGlyphs">III</tspan></text>
<text x="457.60" y="295.60" font-size="12" text-anchor="start" fill="#2b2624" font-weight="300" font-family='"Liberation Sans","Noto Sans CJK SC",sans-serif' textLength="45.0">壁式90°</text>
<text x="431.80" y="312.20" font-size="12" text-anchor="start" fill="#2b2624" font-weight="300" font-family='"Liberation Sans","Noto Sans CJK SC",sans-serif' textLength="51.2">安装(b3)</text>
<line x1="714.30" y1="75.70" x2="714.30" y2="267.50" stroke="#352f2d" stroke-width="0.9" />
<path d="M 714.30,77.80 C 711.80,78.30 711.30,82.30 708.30,82.10 L 705.90,81.10 M 707.10,81.60 C 704.80,79.30 705.30,76.80 706.70,74.80" stroke="#352f2d" stroke-width="1.4" fill="none" />
<line x1="705.60" y1="82.00" x2="653.40" y2="157.30" stroke="#352f2d" stroke-width="1.2" />
<ellipse cx="704.47" cy="83.64" rx="2.54" ry="1.2" transform="rotate(124.7 704.47 83.64)" stroke="#352f2d" stroke-width="1.45" fill="#fff"/>
<ellipse cx="702.20" cy="86.91" rx="2.05" ry="0.7" transform="rotate(124.7 702.20 86.91)" stroke="#352f2d" stroke-width="1.0" fill="#352f2d"/>
<ellipse cx="699.93" cy="90.18" rx="2.54" ry="1.2" transform="rotate(124.7 699.93 90.18)" stroke="#352f2d" stroke-width="1.45" fill="#fff"/>
<ellipse cx="697.66" cy="93.46" rx="2.05" ry="0.7" transform="rotate(124.7 697.66 93.46)" stroke="#352f2d" stroke-width="1.0" fill="#352f2d"/>
<ellipse cx="695.39" cy="96.73" rx="2.54" ry="1.2" transform="rotate(124.7 695.39 96.73)" stroke="#352f2d" stroke-width="1.45" fill="#fff"/>
<ellipse cx="693.12" cy="100.01" rx="2.05" ry="0.7" transform="rotate(124.7 693.12 100.01)" stroke="#352f2d" stroke-width="1.0" fill="#352f2d"/>
<ellipse cx="690.85" cy="103.28" rx="2.54" ry="1.2" transform="rotate(124.7 690.85 103.28)" stroke="#352f2d" stroke-width="1.45" fill="#fff"/>
<ellipse cx="688.58" cy="106.55" rx="2.05" ry="0.7" transform="rotate(124.7 688.58 106.55)" stroke="#352f2d" stroke-width="1.0" fill="#352f2d"/>
<ellipse cx="686.31" cy="109.83" rx="2.54" ry="1.2" transform="rotate(124.7 686.31 109.83)" stroke="#352f2d" stroke-width="1.45" fill="#fff"/>
<ellipse cx="684.04" cy="113.10" rx="2.05" ry="0.7" transform="rotate(124.7 684.04 113.10)" stroke="#352f2d" stroke-width="1.0" fill="#352f2d"/>
<ellipse cx="681.77" cy="116.38" rx="2.54" ry="1.2" transform="rotate(124.7 681.77 116.38)" stroke="#352f2d" stroke-width="1.45" fill="#fff"/>
<ellipse cx="679.50" cy="119.65" rx="2.05" ry="0.7" transform="rotate(124.7 679.50 119.65)" stroke="#352f2d" stroke-width="1.0" fill="#352f2d"/>
<ellipse cx="677.23" cy="122.92" rx="2.54" ry="1.2" transform="rotate(124.7 677.23 122.92)" stroke="#352f2d" stroke-width="1.45" fill="#fff"/>
<ellipse cx="674.96" cy="126.20" rx="2.05" ry="0.7" transform="rotate(124.7 674.96 126.20)" stroke="#352f2d" stroke-width="1.0" fill="#352f2d"/>
<ellipse cx="672.69" cy="129.47" rx="2.54" ry="1.2" transform="rotate(124.7 672.69 129.47)" stroke="#352f2d" stroke-width="1.45" fill="#fff"/>
<ellipse cx="670.42" cy="132.75" rx="2.05" ry="0.7" transform="rotate(124.7 670.42 132.75)" stroke="#352f2d" stroke-width="1.0" fill="#352f2d"/>
<ellipse cx="668.15" cy="136.02" rx="2.54" ry="1.2" transform="rotate(124.7 668.15 136.02)" stroke="#352f2d" stroke-width="1.45" fill="#fff"/>
<ellipse cx="665.88" cy="139.29" rx="2.05" ry="0.7" transform="rotate(124.7 665.88 139.29)" stroke="#352f2d" stroke-width="1.0" fill="#352f2d"/>
<ellipse cx="663.61" cy="142.57" rx="2.54" ry="1.2" transform="rotate(124.7 663.61 142.57)" stroke="#352f2d" stroke-width="1.45" fill="#fff"/>
<ellipse cx="661.34" cy="145.84" rx="2.05" ry="0.7" transform="rotate(124.7 661.34 145.84)" stroke="#352f2d" stroke-width="1.0" fill="#352f2d"/>
<ellipse cx="659.07" cy="149.12" rx="2.54" ry="1.2" transform="rotate(124.7 659.07 149.12)" stroke="#352f2d" stroke-width="1.45" fill="#fff"/>
<ellipse cx="656.80" cy="152.39" rx="2.05" ry="0.7" transform="rotate(124.7 656.80 152.39)" stroke="#352f2d" stroke-width="1.0" fill="#352f2d"/>
<ellipse cx="654.53" cy="155.66" rx="2.54" ry="1.2" transform="rotate(124.7 654.53 155.66)" stroke="#352f2d" stroke-width="1.45" fill="#fff"/>
<g transform="translate(653.40,157.30) rotate(117.2)" stroke="#352f2d" fill="none"><path d="M 0,0 L 22.72,0" stroke-width="1.1"/><rect x="4.54" y="-1.8" width="12.72" height="3.6" rx="1.8" stroke-width="1.1" fill="#fff"/><path d="M 6.13,0 L 15.68,0" stroke-width="0.9"/><circle cx="1.4" cy="0" r="1.4" stroke-width="1"/></g>
<path d="M 683.5,182.5 L 648,182.5 L 613.6,202.6" stroke="#352f2d" stroke-width="7.40" fill="none" stroke-linecap="butt" stroke-linejoin="round"/>
<path d="M 683.5,182.5 L 648,182.5 L 613.6,202.6" stroke="#fff" stroke-width="5.60" fill="none" stroke-linecap="butt" stroke-linejoin="round"/>
<rect x="-3.2" y="-1.6" width="6.4" height="3.2" transform="translate(643.4,181) rotate(55)" fill="#fff" stroke="#352f2d" stroke-width="0.9"/>
<rect x="-3.4" y="-0.8" width="6.8" height="1.6" transform="translate(642,179.9) rotate(55)" fill="#352f2d" stroke="none"/>
<path d="M 714.2,173.5 L 710.4,177.5 L 710.4,187.5 L 714.2,191.5 Z" stroke="#352f2d" stroke-width="0.8" fill="#352f2d" />
<rect x="695.20" y="164.40" width="8.00" height="9.60" rx="0" stroke="#352f2d" stroke-width="0.9" fill="#fff"/>
<line x1="694.60" y1="166.00" x2="703.80" y2="166.00" stroke="#352f2d" stroke-width="1.0" />
<line x1="694.60" y1="164.60" x2="703.80" y2="164.60" stroke="#352f2d" stroke-width="1.0" />
<rect x="695.20" y="191.00" width="8.00" height="9.20" rx="0" stroke="#352f2d" stroke-width="0.9" fill="#fff"/>
<line x1="694.60" y1="198.60" x2="703.80" y2="198.60" stroke="#352f2d" stroke-width="1.0" />
<line x1="694.60" y1="200.00" x2="703.80" y2="200.00" stroke="#352f2d" stroke-width="1.0" />
<rect x="681.50" y="178.50" width="9.20" height="8.00" rx="0" stroke="#352f2d" stroke-width="0.9" fill="#fff"/>
<line x1="683.10" y1="177.90" x2="683.10" y2="187.10" stroke="#352f2d" stroke-width="1.0" />
<line x1="681.70" y1="177.90" x2="681.70" y2="187.10" stroke="#352f2d" stroke-width="1.0" />
<circle cx="699.20" cy="182.50" r="9.50" stroke="#352f2d" stroke-width="1.2" fill="#fff"/>
<circle cx="699.20" cy="182.50" r="8.17" stroke="#352f2d" stroke-width="0.8" fill="none"/>
<circle cx="699.20" cy="182.22" r="3.61" stroke="#352f2d" stroke-width="1.4" fill="none"/>
<path d="M 693.31,186.49 Q 699.20,191.81 705.09,186.49 M 693.31,186.49 L 696.92,184.88 M 705.09,186.49 L 701.48,184.88" stroke="#352f2d" stroke-width="1.4" fill="none" />
<line x1="714.10" y1="169.70" x2="714.10" y2="195.20" stroke="#352f2d" stroke-width="1.7" />
<g transform="translate(608.90,204.60) rotate(60) scale(0.8200,0.8200)" fill="none" stroke="#352f2d" stroke-width="1.05" stroke-linecap="round" stroke-linejoin="round"><rect x="-5.6" y="-7.6" width="11.2" height="8.6" rx="0.8" fill="#fff" stroke-width="1.1"/><path d="M -6.4,-5.2 L 6.4,-5.2 M -6.4,-2.6 L 6.4,-2.6" stroke-width="1.2"/><path d="M -27.8,17 C -27.4,9 -21,1.2 -9,0 L 9,0 C 21,1.2 27.4,9 27.8,17 Z" fill="#fff"/><path d="M -2.6,0.9 L -3.4,16.5" stroke-width="1.9"/><path d="M 2.6,0.9 L 3.4,16.5" stroke-width="1.9"/><path d="M -6.6,1.3 L -8.8,16.5" stroke-width="1.9"/><path d="M 6.6,1.3 L 8.8,16.5" stroke-width="1.9"/><path d="M -10.4,2.1 L -14.0,16.5" stroke-width="1.9"/><path d="M 10.4,2.1 L 14.0,16.5" stroke-width="1.9"/><path d="M -14.0,3.2 L -19.0,16.5" stroke-width="1.9"/><path d="M 14.0,3.2 L 19.0,16.5" stroke-width="1.9"/><path d="M -17.6,4.6 L -23.2,16.5" stroke-width="1.9"/><path d="M 17.6,4.6 L 23.2,16.5" stroke-width="1.9"/><path d="M -21.4,6.4 L -26.2,16.5" stroke-width="1.9"/><path d="M 21.4,6.4 L 26.2,16.5" stroke-width="1.9"/><rect x="-29" y="17" width="58" height="2.8" rx="0.8" fill="#fff"/><path d="M -28,19.8 L -28,25.6 Q -28,26.7 -26.8,26.7 L 27,26.7 Q 28.2,26.7 28.2,25.6 L 28.2,19.8" fill="#fff"/><rect x="-25.8" y="26.7" width="51.8" height="11.6" fill="#fff"/><path d="M -25.3,20.6 L -25.3,26.7" stroke-width="1.8"/><path d="M -22.9,20.6 L -22.9,26.7" stroke-width="1.8"/><path d="M -22.9,26.7 L -22.9,38.3" stroke-width="1.3"/><path d="M -18.1,20.6 L -18.1,26.7" stroke-width="1.8"/><path d="M -18.1,26.7 L -18.1,38.3" stroke-width="1.3"/><path d="M -9.5,20.6 L -9.5,26.7" stroke-width="1.8"/><path d="M -9.5,26.7 L -9.5,38.3" stroke-width="1.3"/><path d="M -1.8,20.6 L -1.8,26.7" stroke-width="1.8"/><path d="M -1.8,26.7 L -1.8,38.3" stroke-width="1.3"/><path d="M 6.8,20.6 L 6.8,26.7" stroke-width="1.8"/><path d="M 6.8,26.7 L 6.8,38.3" stroke-width="1.3"/><path d="M 14.5,20.6 L 14.5,26.7" stroke-width="1.8"/><path d="M 14.5,26.7 L 14.5,38.3" stroke-width="1.3"/><path d="M 19.8,20.6 L 19.8,26.7" stroke-width="1.8"/><path d="M 19.8,26.7 L 19.8,38.3" stroke-width="1.3"/><path d="M 24.1,20.6 L 24.1,26.7" stroke-width="1.8"/><path d="M 24.1,26.7 L 24.1,38.3" stroke-width="1.3"/><path d="M -16,38 Q -12,30 -3,28 M 16,38 Q 12,30 3,28 M -8,38 Q -5,31 0,30 Q 5,31 8,38 M -22,38 Q -20,32 -14,28.5 M 22,38 Q 20,32 14,28.5" stroke-width="0.8"/><path d="M -3,24.5 L 3,24.5 M 0,24.5 L 0,31" stroke-width="1.3"/><rect x="-26.6" y="38.3" width="53.4" height="13.7" rx="1" fill="#fff"/><path d="M -26.6,45.9 L 26.8,45.9"/><path d="M -24.00,52 L -24.00,68.19 C -24.00,81.23 -14.40,91.50 -5.52,91.50 L 5.52,91.50 C 14.40,91.50 24.00,81.23 24.00,68.19 L 24.00,52" stroke-width="1.1"/><path d="M -22.20,52 L -22.20,68.19 C -22.20,81.23 -13.32,89.90 -5.11,89.90 L 5.11,89.90 C 13.32,89.90 22.20,81.23 22.20,68.19 L 22.20,52" stroke-width="0.7"/><path d="M -21.50,52 L -21.50,68.19 C -21.50,81.23 -12.90,90.50 -4.95,90.50" stroke-width="1.55"/><path d="M -16.50,52 L -16.50,68.19 C -16.50,81.23 -9.90,90.50 -3.80,90.50" stroke-width="1.55"/><path d="M -6.30,52 L -6.30,68.19 C -6.30,81.23 -3.78,90.50 -1.45,90.50" stroke-width="1.55"/><path d="M 5.00,52 L 5.00,68.19 C 5.00,81.23 3.00,90.50 1.15,90.50" stroke-width="1.55"/><path d="M 15.60,52 L 15.60,68.19 C 15.60,81.23 9.36,90.50 3.59,90.50" stroke-width="1.55"/><path d="M 21.30,52 L 21.30,68.19 C 21.30,81.23 12.78,90.50 4.90,90.50" stroke-width="1.55"/><path d="M -24.6,63.9 L 24.6,63.9" stroke-width="1.9500000000000002"/><path d="M -23.6,63.9 L 23.6,63.9" stroke="#fff" stroke-width="0.35"/><path d="M -23.4,75.2 L 23.4,75.2" stroke-width="1.9500000000000002"/><path d="M -22.4,75.2 L 22.4,75.2" stroke="#fff" stroke-width="0.35"/></g>
<line x1="714.30" y1="77.70" x2="726.60" y2="77.70" stroke="#352f2d" stroke-width="0.6" />
<line x1="714.30" y1="182.50" x2="726.80" y2="182.50" stroke="#352f2d" stroke-width="0.6" />
<line x1="725.10" y1="77.70" x2="725.10" y2="182.50" stroke="#352f2d" stroke-width="0.6" />
<path d="M 725.10,77.70 L 726.00,81.90 L 724.20,81.90 Z" fill="#352f2d" stroke="none"/>
<path d="M 725.10,182.50 L 724.20,178.30 L 726.00,178.30 Z" fill="#352f2d" stroke="none"/>
<text transform="translate(723.00,137.65) rotate(-90)" x="0" y="0" font-size="10" fill="#2b2624" font-family='"Liberation Sans","Noto Sans CJK SC",sans-serif' textLength="15.3" lengthAdjust="spacingAndGlyphs">505</text>
<line x1="665.00" y1="182.60" x2="672.00" y2="182.60" stroke="#352f2d" stroke-width="0.6" />
<line x1="670.60" y1="182.60" x2="670.60" y2="253.40" stroke="#352f2d" stroke-width="0.6" />
<path d="M 670.60,182.60 L 671.50,186.80 L 669.70,186.80 Z" fill="#352f2d" stroke="none"/>
<path d="M 670.60,253.40 L 669.70,249.20 L 671.50,249.20 Z" fill="#352f2d" stroke="none"/>
<line x1="564.50" y1="253.40" x2="672.50" y2="253.40" stroke="#352f2d" stroke-width="0.6" />
<text transform="translate(668.40,226.45) rotate(-90)" x="0" y="0" font-size="10" fill="#2b2624" font-family='"Liberation Sans","Noto Sans CJK SC",sans-serif' textLength="15.3" lengthAdjust="spacingAndGlyphs">400</text>
<line x1="541.00" y1="241.00" x2="541.00" y2="267.50" stroke="#352f2d" stroke-width="0.6" />
<line x1="541.00" y1="265.60" x2="714.30" y2="265.60" stroke="#352f2d" stroke-width="0.6" />
<path d="M 541.00,265.60 L 545.20,264.70 L 545.20,266.50 Z" fill="#352f2d" stroke="none"/>
<path d="M 714.30,265.60 L 710.10,266.50 L 710.10,264.70 Z" fill="#352f2d" stroke="none"/>
<text x="620.35" y="263.60" font-size="10" text-anchor="start" fill="#2b2624" font-weight="400" font-family='"Liberation Sans","Noto Sans CJK SC",sans-serif' textLength="15.3" lengthAdjust="spacingAndGlyphs">900</text>
<text y="295.60" font-size="13" fill="#2b2624" font-family='"Liberation Sans","Noto Sans CJK SC",sans-serif'><tspan x="588.30">d</tspan><tspan x="595.10" font-size="11.4" fill="#6f6a68" font-family='"Noto Sans CJK SC",sans-serif'>□</tspan><tspan x="606.50" textLength="13.9" lengthAdjust="spacingAndGlyphs">86</tspan><tspan x="621.80" font-size="12.6" font-family='"Liberation Serif",serif' textLength="10.4" lengthAdjust="spacingAndGlyphs">III</tspan></text>
<text x="633.60" y="295.60" font-size="12" text-anchor="start" fill="#2b2624" font-weight="300" font-family='"Liberation Sans","Noto Sans CJK SC",sans-serif' textLength="45.0">壁式30°</text>
<text x="607.70" y="312.20" font-size="12" text-anchor="start" fill="#2b2624" font-weight="300" font-family='"Liberation Sans","Noto Sans CJK SC",sans-serif' textLength="50.3">安装(b1)</text>
<path d="M 429.4,392 L 429.4,468.4 Q 432.6,470.59999999999997 435.8,468.4 L 435.8,392" stroke="#352f2d" stroke-width="0.9" fill="#fff"/>
<path d="M 429.4,552.2 L 429.4,476.2 Q 432.6,473.5 435.8,476.2 L 435.8,552.2" stroke="#352f2d" stroke-width="0.9" fill="#fff"/>
<path d="M 426.6,394.4 L 426.6,380.2 Q 426.6,376.8 430.4,376.5 L 458.6,372.3 L 458.6,387 L 438.8,383.6 L 438.4,394.4 Z" stroke="#352f2d" stroke-width="1" fill="#fff" stroke-linejoin="round"/>
<rect x="443.40" y="377.60" width="12.20" height="4.10" rx="0.8" stroke="#352f2d" stroke-width="0.9" fill="none"/>
<path d="M 440,385.3 L 458.6,388.3 M 439.2,383.8 L 440,385.3" stroke="#352f2d" stroke-width="0.8" fill="none" />
<circle cx="441.30" cy="386.30" r="0.70" stroke="#352f2d" stroke-width="0.7" fill="none"/>
<g transform="translate(487.40,372.80) rotate(0) scale(-0.7900,0.7900)" fill="none" stroke="#352f2d" stroke-width="1.05" stroke-linecap="round" stroke-linejoin="round"><path d="M -27.8,17 L -27.3,11 C -26.3,4 -23,0.6 -17,0 L 17,0 C 23,0.6 26.3,4 27.3,11 L 27.8,17 Z" fill="#fff"/><path d="M -23.5,3.08 L -25.8,16.5" stroke-width="1.9"/><path d="M -19.3,2.7439999999999998 L -21.8,16.5" stroke-width="1.9"/><path d="M -14.8,2.3840000000000003 L -17,16.5" stroke-width="1.9"/><path d="M -10.2,2.016 L -11.6,16.5" stroke-width="1.9"/><path d="M 10.2,2.016 L 11.6,16.5" stroke-width="1.9"/><path d="M 14.8,2.3840000000000003 L 17,16.5" stroke-width="1.9"/><path d="M 19.3,2.7439999999999998 L 21.8,16.5" stroke-width="1.9"/><path d="M 23.5,3.08 L 25.8,16.5" stroke-width="1.9"/><path d="M -6.2,1.4 L -7,16.5" stroke-width="1.9"/><path d="M 6.2,1.4 L 7,16.5" stroke-width="1.9"/><rect x="-3.4" y="5.2" width="6.8" height="6.6" rx="0.8" fill="#fff" stroke-width="1.5"/><rect x="-1.2" y="7.2" width="2.4" height="2.6" fill="#352f2d" stroke="none"/><path d="M 18,17 L 18,5 Q 18,-0.5 23,-0.5 L 33.5,-0.5 L 33.5,19 L 28,19" fill="#fff"/><rect x="33.2" y="0.6" width="3" height="18" rx="0.8" fill="#fff"/><circle cx="28.3" cy="9" r="3.8" fill="#fff" stroke-width="1.3"/><circle cx="28.3" cy="9" r="1.9" stroke-width="1"/><rect x="-29" y="17" width="58" height="2.8" rx="0.8" fill="#fff"/><path d="M -28,19.8 L -28,25.6 Q -28,26.7 -26.8,26.7 L 27,26.7 Q 28.2,26.7 28.2,25.6 L 28.2,19.8" fill="#fff"/><rect x="-25.8" y="26.7" width="51.8" height="11.6" fill="#fff"/><path d="M -25.3,20.6 L -25.3,26.7" stroke-width="1.8"/><path d="M -22.9,20.6 L -22.9,26.7" stroke-width="1.8"/><path d="M -22.9,26.7 L -22.9,38.3" stroke-width="1.3"/><path d="M -18.1,20.6 L -18.1,26.7" stroke-width="1.8"/><path d="M -18.1,26.7 L -18.1,38.3" stroke-width="1.3"/><path d="M -9.5,20.6 L -9.5,26.7" stroke-width="1.8"/><path d="M -9.5,26.7 L -9.5,38.3" stroke-width="1.3"/><path d="M -1.8,20.6 L -1.8,26.7" stroke-width="1.8"/><path d="M -1.8,26.7 L -1.8,38.3" stroke-width="1.3"/><path d="M 6.8,20.6 L 6.8,26.7" stroke-width="1.8"/><path d="M 6.8,26.7 L 6.8,38.3" stroke-width="1.3"/><path d="M 14.5,20.6 L 14.5,26.7" stroke-width="1.8"/><path d="M 14.5,26.7 L 14.5,38.3" stroke-width="1.3"/><path d="M 19.8,20.6 L 19.8,26.7" stroke-width="1.8"/><path d="M 19.8,26.7 L 19.8,38.3" stroke-width="1.3"/><path d="M 24.1,20.6 L 24.1,26.7" stroke-width="1.8"/><path d="M 24.1,26.7 L 24.1,38.3" stroke-width="1.3"/><path d="M -16,38 Q -12,30 -3,28 M 16,38 Q 12,30 3,28 M -8,38 Q -5,31 0,30 Q 5,31 8,38 M -22,38 Q -20,32 -14,28.5 M 22,38 Q 20,32 14,28.5" stroke-width="0.8"/><path d="M -3,24.5 L 3,24.5 M 0,24.5 L 0,31" stroke-width="1.3"/><rect x="-26.6" y="38.3" width="53.4" height="13.7" rx="1" fill="#fff"/><path d="M -26.6,45.9 L 26.8,45.9"/><path d="M -24.00,52 L -24.00,68.19 C -24.00,81.23 -14.40,91.50 -5.52,91.50 L 5.52,91.50 C 14.40,91.50 24.00,81.23 24.00,68.19 L 24.00,52" stroke-width="1.1"/><path d="M -22.20,52 L -22.20,68.19 C -22.20,81.23 -13.32,89.90 -5.11,89.90 L 5.11,89.90 C 13.32,89.90 22.20,81.23 22.20,68.19 L 22.20,52" stroke-width="0.7"/><path d="M -21.50,52 L -21.50,68.19 C -21.50,81.23 -12.90,90.50 -4.95,90.50" stroke-width="1.55"/><path d="M -16.50,52 L -16.50,68.19 C -16.50,81.23 -9.90,90.50 -3.80,90.50" stroke-width="1.55"/><path d="M -6.30,52 L -6.30,68.19 C -6.30,81.23 -3.78,90.50 -1.45,90.50" stroke-width="1.55"/><path d="M 5.00,52 L 5.00,68.19 C 5.00,81.23 3.00,90.50 1.15,90.50" stroke-width="1.55"/><path d="M 15.60,52 L 15.60,68.19 C 15.60,81.23 9.36,90.50 3.59,90.50" stroke-width="1.55"/><path d="M 21.30,52 L 21.30,68.19 C 21.30,81.23 12.78,90.50 4.90,90.50" stroke-width="1.55"/><path d="M -24.6,63.9 L 24.6,63.9" stroke-width="1.9500000000000002"/><path d="M -23.6,63.9 L 23.6,63.9" stroke="#fff" stroke-width="0.35"/><path d="M -23.4,75.2 L 23.4,75.2" stroke-width="1.9500000000000002"/><path d="M -22.4,75.2 L 22.4,75.2" stroke="#fff" stroke-width="0.35"/></g>
<path d="M 422.9,552.2 L 429.4,544.2 M 435.8,544.2 L 442.3,552.2 M 425.9,552.2 L 429.4,547.7 M 439.3,552.2 L 435.8,547.7" stroke="#352f2d" stroke-width="0.8" fill="none" />
<line x1="422.40" y1="552.20" x2="442.80" y2="552.20" stroke="#352f2d" stroke-width="1.5" />
<rect x="435.80" y="522.50" width="1.60" height="6.00" rx="0" stroke="#352f2d" stroke-width="0.8" fill="#fff"/>
<rect x="437.40" y="523.30" width="2.80" height="4.40" rx="0" stroke="#352f2d" stroke-width="0.8" fill="#352f2d"/>
<line x1="413.20" y1="379.60" x2="427.40" y2="379.60" stroke="#352f2d" stroke-width="0.6" />
<line x1="413.00" y1="552.20" x2="423.00" y2="552.20" stroke="#352f2d" stroke-width="0.6" />
<line x1="416.10" y1="379.60" x2="416.10" y2="552.20" stroke="#352f2d" stroke-width="0.6" />
<path d="M 416.10,379.60 L 417.00,383.80 L 415.20,383.80 Z" fill="#352f2d" stroke="none"/>
<path d="M 416.10,552.20 L 415.20,548.00 L 417.00,548.00 Z" fill="#352f2d" stroke="none"/>
<text transform="translate(413.60,476.40) rotate(-90)" x="0" y="0" font-size="10" fill="#2b2624" font-family='"Liberation Sans","Noto Sans CJK SC",sans-serif' textLength="20.4" lengthAdjust="spacingAndGlyphs">3050</text>
<text y="573.80" font-size="13" fill="#2b2624" font-family='"Liberation Sans","Noto Sans CJK SC",sans-serif'><tspan x="425.30">d</tspan><tspan x="432.10" font-size="11.4" fill="#6f6a68" font-family='"Noto Sans CJK SC",sans-serif'>□</tspan><tspan x="443.50" textLength="13.9" lengthAdjust="spacingAndGlyphs">86</tspan><tspan x="458.80" font-size="12.6" font-family='"Liberation Serif",serif' textLength="10.2" lengthAdjust="spacingAndGlyphs">IV</tspan></text>
<text x="415.80" y="590.00" font-size="12" text-anchor="start" fill="#2b2624" font-weight="300" font-family='"Liberation Sans","Noto Sans CJK SC",sans-serif' textLength="64.2">法兰式(F2)</text>
<path d="M 596,392 L 596,468.4 Q 599.15,470.59999999999997 602.3,468.4 L 602.3,392" stroke="#352f2d" stroke-width="0.9" fill="#fff"/>
<path d="M 596,552.2 L 596,476.2 Q 599.15,473.5 602.3,476.2 L 602.3,552.2" stroke="#352f2d" stroke-width="0.9" fill="#fff"/>
<path d="M 599.4,374.7 L 619,360.8 L 625.5,374.5 L 604.7,384 Z" stroke="#352f2d" stroke-width="0.9" fill="#fff"/>
<rect x="0" y="0" width="10.5" height="3.6" transform="translate(606,373.2) rotate(-27)" stroke="#352f2d" stroke-width="0.8" fill="none"/>
<path d="M 606.5,381.6 L 623,373.5" stroke="#352f2d" stroke-width="0.7" fill="none" />
<circle cx="607.80" cy="383.00" r="0.80" stroke="#352f2d" stroke-width="0.7" fill="none"/>
<path d="M 593.2,393.4 L 593.2,379.4 L 599.4,374.7 L 604.7,384 L 604.7,393.4 Z" stroke="#352f2d" stroke-width="0.9" fill="#fff" stroke-linejoin="round"/>
<g transform="translate(639.60,353.60) rotate(-25) scale(-0.7900,0.7900)" fill="none" stroke="#352f2d" stroke-width="1.05" stroke-linecap="round" stroke-linejoin="round"><path d="M -27.8,17 L -27.3,11 C -26.3,4 -23,0.6 -17,0 L 17,0 C 23,0.6 26.3,4 27.3,11 L 27.8,17 Z" fill="#fff"/><path d="M -23.5,3.08 L -25.8,16.5" stroke-width="1.9"/><path d="M -19.3,2.7439999999999998 L -21.8,16.5" stroke-width="1.9"/><path d="M -14.8,2.3840000000000003 L -17,16.5" stroke-width="1.9"/><path d="M -10.2,2.016 L -11.6,16.5" stroke-width="1.9"/><path d="M 10.2,2.016 L 11.6,16.5" stroke-width="1.9"/><path d="M 14.8,2.3840000000000003 L 17,16.5" stroke-width="1.9"/><path d="M 19.3,2.7439999999999998 L 21.8,16.5" stroke-width="1.9"/><path d="M 23.5,3.08 L 25.8,16.5" stroke-width="1.9"/><path d="M -6.2,1.4 L -7,16.5" stroke-width="1.9"/><path d="M 6.2,1.4 L 7,16.5" stroke-width="1.9"/><rect x="-3.4" y="5.2" width="6.8" height="6.6" rx="0.8" fill="#fff" stroke-width="1.5"/><rect x="-1.2" y="7.2" width="2.4" height="2.6" fill="#352f2d" stroke="none"/><path d="M 18,17 L 18,5 Q 18,-0.5 23,-0.5 L 33.5,-0.5 L 33.5,19 L 28,19" fill="#fff"/><rect x="33.2" y="0.6" width="3" height="18" rx="0.8" fill="#fff"/><circle cx="28.3" cy="9" r="3.8" fill="#fff" stroke-width="1.3"/><circle cx="28.3" cy="9" r="1.9" stroke-width="1"/><rect x="-29" y="17" width="58" height="2.8" rx="0.8" fill="#fff"/><path d="M -28,19.8 L -28,25.6 Q -28,26.7 -26.8,26.7 L 27,26.7 Q 28.2,26.7 28.2,25.6 L 28.2,19.8" fill="#fff"/><rect x="-25.8" y="26.7" width="51.8" height="11.6" fill="#fff"/><path d="M -25.3,20.6 L -25.3,26.7" stroke-width="1.8"/><path d="M -22.9,20.6 L -22.9,26.7" stroke-width="1.8"/><path d="M -22.9,26.7 L -22.9,38.3" stroke-width="1.3"/><path d="M -18.1,20.6 L -18.1,26.7" stroke-width="1.8"/><path d="M -18.1,26.7 L -18.1,38.3" stroke-width="1.3"/><path d="M -9.5,20.6 L -9.5,26.7" stroke-width="1.8"/><path d="M -9.5,26.7 L -9.5,38.3" stroke-width="1.3"/><path d="M -1.8,20.6 L -1.8,26.7" stroke-width="1.8"/><path d="M -1.8,26.7 L -1.8,38.3" stroke-width="1.3"/><path d="M 6.8,20.6 L 6.8,26.7" stroke-width="1.8"/><path d="M 6.8,26.7 L 6.8,38.3" stroke-width="1.3"/><path d="M 14.5,20.6 L 14.5,26.7" stroke-width="1.8"/><path d="M 14.5,26.7 L 14.5,38.3" stroke-width="1.3"/><path d="M 19.8,20.6 L 19.8,26.7" stroke-width="1.8"/><path d="M 19.8,26.7 L 19.8,38.3" stroke-width="1.3"/><path d="M 24.1,20.6 L 24.1,26.7" stroke-width="1.8"/><path d="M 24.1,26.7 L 24.1,38.3" stroke-width="1.3"/><path d="M -16,38 Q -12,30 -3,28 M 16,38 Q 12,30 3,28 M -8,38 Q -5,31 0,30 Q 5,31 8,38 M -22,38 Q -20,32 -14,28.5 M 22,38 Q 20,32 14,28.5" stroke-width="0.8"/><path d="M -3,24.5 L 3,24.5 M 0,24.5 L 0,31" stroke-width="1.3"/><rect x="-26.6" y="38.3" width="53.4" height="13.7" rx="1" fill="#fff"/><path d="M -26.6,45.9 L 26.8,45.9"/><path d="M -24.00,52 L -24.00,68.19 C -24.00,81.23 -14.40,91.50 -5.52,91.50 L 5.52,91.50 C 14.40,91.50 24.00,81.23 24.00,68.19 L 24.00,52" stroke-width="1.1"/><path d="M -22.20,52 L -22.20,68.19 C -22.20,81.23 -13.32,89.90 -5.11,89.90 L 5.11,89.90 C 13.32,89.90 22.20,81.23 22.20,68.19 L 22.20,52" stroke-width="0.7"/><path d="M -21.50,52 L -21.50,68.19 C -21.50,81.23 -12.90,90.50 -4.95,90.50" stroke-width="1.55"/><path d="M -16.50,52 L -16.50,68.19 C -16.50,81.23 -9.90,90.50 -3.80,90.50" stroke-width="1.55"/><path d="M -6.30,52 L -6.30,68.19 C -6.30,81.23 -3.78,90.50 -1.45,90.50" stroke-width="1.55"/><path d="M 5.00,52 L 5.00,68.19 C 5.00,81.23 3.00,90.50 1.15,90.50" stroke-width="1.55"/><path d="M 15.60,52 L 15.60,68.19 C 15.60,81.23 9.36,90.50 3.59,90.50" stroke-width="1.55"/><path d="M 21.30,52 L 21.30,68.19 C 21.30,81.23 12.78,90.50 4.90,90.50" stroke-width="1.55"/><path d="M -24.6,63.9 L 24.6,63.9" stroke-width="1.9500000000000002"/><path d="M -23.6,63.9 L 23.6,63.9" stroke="#fff" stroke-width="0.35"/><path d="M -23.4,75.2 L 23.4,75.2" stroke-width="1.9500000000000002"/><path d="M -22.4,75.2 L 22.4,75.2" stroke="#fff" stroke-width="0.35"/></g>
<path d="M 603.8,420.5 Q 626,420 646.6,413.8" stroke="#352f2d" stroke-width="0.6" fill="none" />
<path d="M 603.40,420.50 L 607.40,419.70 L 607.40,421.30 Z" fill="#352f2d" stroke="none"/>
<text transform="translate(621.60,415.00) rotate(-13)" font-size="10" fill="#2b2624" font-family='"Liberation Sans","Noto Sans CJK SC",sans-serif'>25<tspan dy="-2.2" font-size="8.5" fill="#7a7573">°</tspan></text>
<path d="M 589.2,552.2 L 595.7,544.2 M 602.5,544.2 L 609.0,552.2 M 592.2,552.2 L 595.7,547.7 M 606.0,552.2 L 602.5,547.7" stroke="#352f2d" stroke-width="0.8" fill="none" />
<line x1="588.70" y1="552.20" x2="609.50" y2="552.20" stroke="#352f2d" stroke-width="1.5" />
<rect x="602.50" y="522.60" width="1.60" height="6.00" rx="0" stroke="#352f2d" stroke-width="0.8" fill="#fff"/>
<rect x="604.10" y="523.40" width="2.80" height="4.40" rx="0" stroke="#352f2d" stroke-width="0.8" fill="#352f2d"/>
<line x1="579.00" y1="380.00" x2="593.00" y2="380.00" stroke="#352f2d" stroke-width="0.6" />
<line x1="578.00" y1="552.20" x2="589.00" y2="552.20" stroke="#352f2d" stroke-width="0.6" />
<line x1="581.30" y1="380.00" x2="581.30" y2="552.20" stroke="#352f2d" stroke-width="0.6" />
<path d="M 581.30,380.00 L 582.20,384.20 L 580.40,384.20 Z" fill="#352f2d" stroke="none"/>
<path d="M 581.30,552.20 L 580.40,548.00 L 582.20,548.00 Z" fill="#352f2d" stroke="none"/>
<text transform="translate(578.60,476.40) rotate(-90)" x="0" y="0" font-size="10" fill="#2b2624" font-family='"Liberation Sans","Noto Sans CJK SC",sans-serif' textLength="20.4" lengthAdjust="spacingAndGlyphs">3050</text>
<text y="573.80" font-size="13" fill="#2b2624" font-family='"Liberation Sans","Noto Sans CJK SC",sans-serif'><tspan x="586.40">d</tspan><tspan x="593.20" font-size="11.4" fill="#6f6a68" font-family='"Noto Sans CJK SC",sans-serif'>□</tspan><tspan x="604.60" textLength="13.9" lengthAdjust="spacingAndGlyphs">86</tspan><tspan x="619.90" font-size="12.6" font-family='"Liberation Serif",serif' textLength="10.2" lengthAdjust="spacingAndGlyphs">IV</tspan></text>
<text x="577.00" y="590.00" font-size="12" text-anchor="start" fill="#2b2624" font-weight="300" font-family='"Liberation Sans","Noto Sans CJK SC",sans-serif' textLength="65.0">法兰式(F3)</text>
<rect x="120.20" y="802.80" width="2.60" height="50.40" rx="0" stroke="#352f2d" stroke-width="0.8" fill="#fff"/>
<path d="M 124.5,853.2 L 124.5,662 C 124.5,645 131,634.6 143,634.6 C 151,634.6 156,638.5 160,644.2" stroke="#352f2d" stroke-width="4.45" fill="none" stroke-linecap="butt" stroke-linejoin="round"/>
<path d="M 124.5,853.2 L 124.5,662 C 124.5,645 131,634.6 143,634.6 C 151,634.6 156,638.5 160,644.2" stroke="#fff" stroke-width="2.75" fill="none" stroke-linecap="butt" stroke-linejoin="round"/>
<rect x="121.90" y="682.00" width="5.40" height="5.30" rx="0.8" stroke="#352f2d" stroke-width="0.9" fill="#fff"/>
<g transform="translate(159.20,645.20) rotate(-36)" stroke="#352f2d" fill="#fff"><rect x="-3.6" y="0" width="7.2" height="11" stroke-width="1"/><rect x="-4.3" y="0.8" width="8.6" height="2.6" stroke-width="1" fill="#352f2d"/><path d="M -4.6,6 L 4.6,6" stroke-width="1.1"/></g>
<g transform="translate(165.80,653.00) rotate(-27.5) scale(0.9100,0.9100)" fill="none" stroke="#352f2d" stroke-width="1.05" stroke-linecap="round" stroke-linejoin="round"><path d="M -27.8,17 C -27.4,9 -21,1.2 -9,0 L 9,0 C 21,1.2 27.4,9 27.8,17 Z" fill="#fff"/><path d="M -2.6,0.9 L -3.4,16.5" stroke-width="1.9"/><path d="M 2.6,0.9 L 3.4,16.5" stroke-width="1.9"/><path d="M -6.6,1.3 L -8.8,16.5" stroke-width="1.9"/><path d="M 6.6,1.3 L 8.8,16.5" stroke-width="1.9"/><path d="M -10.4,2.1 L -14.0,16.5" stroke-width="1.9"/><path d="M 10.4,2.1 L 14.0,16.5" stroke-width="1.9"/><path d="M -14.0,3.2 L -19.0,16.5" stroke-width="1.9"/><path d="M 14.0,3.2 L 19.0,16.5" stroke-width="1.9"/><path d="M -17.6,4.6 L -23.2,16.5" stroke-width="1.9"/><path d="M 17.6,4.6 L 23.2,16.5" stroke-width="1.9"/><path d="M -21.4,6.4 L -26.2,16.5" stroke-width="1.9"/><path d="M 21.4,6.4 L 26.2,16.5" stroke-width="1.9"/><rect x="-29" y="17" width="58" height="2.8" rx="0.8" fill="#fff"/><path d="M -28,19.8 L -28,25.6 Q -28,26.7 -26.8,26.7 L 27,26.7 Q 28.2,26.7 28.2,25.6 L 28.2,19.8" fill="#fff"/><rect x="-25.8" y="26.7" width="51.8" height="11.6" fill="#fff"/><path d="M -25.3,20.6 L -25.3,26.7" stroke-width="1.8"/><path d="M -22.9,20.6 L -22.9,26.7" stroke-width="1.8"/><path d="M -22.9,26.7 L -22.9,38.3" stroke-width="1.3"/><path d="M -18.1,20.6 L -18.1,26.7" stroke-width="1.8"/><path d="M -18.1,26.7 L -18.1,38.3" stroke-width="1.3"/><path d="M -9.5,20.6 L -9.5,26.7" stroke-width="1.8"/><path d="M -9.5,26.7 L -9.5,38.3" stroke-width="1.3"/><path d="M -1.8,20.6 L -1.8,26.7" stroke-width="1.8"/><path d="M -1.8,26.7 L -1.8,38.3" stroke-width="1.3"/><path d="M 6.8,20.6 L 6.8,26.7" stroke-width="1.8"/><path d="M 6.8,26.7 L 6.8,38.3" stroke-width="1.3"/><path d="M 14.5,20.6 L 14.5,26.7" stroke-width="1.8"/><path d="M 14.5,26.7 L 14.5,38.3" stroke-width="1.3"/><path d="M 19.8,20.6 L 19.8,26.7" stroke-width="1.8"/><path d="M 19.8,26.7 L 19.8,38.3" stroke-width="1.3"/><path d="M 24.1,20.6 L 24.1,26.7" stroke-width="1.8"/><path d="M 24.1,26.7 L 24.1,38.3" stroke-width="1.3"/><path d="M -16,38 Q -12,30 -3,28 M 16,38 Q 12,30 3,28 M -8,38 Q -5,31 0,30 Q 5,31 8,38 M -22,38 Q -20,32 -14,28.5 M 22,38 Q 20,32 14,28.5" stroke-width="0.8"/><path d="M -3,24.5 L 3,24.5 M 0,24.5 L 0,31" stroke-width="1.3"/><rect x="-26.6" y="38.3" width="53.4" height="13.7" rx="1" fill="#fff"/><path d="M -26.6,45.9 L 26.8,45.9"/><path d="M -24.00,52 L -24.00,68.19 C -24.00,81.23 -14.40,91.50 -5.52,91.50 L 5.52,91.50 C 14.40,91.50 24.00,81.23 24.00,68.19 L 24.00,52" stroke-width="1.1"/><path d="M -22.20,52 L -22.20,68.19 C -22.20,81.23 -13.32,89.90 -5.11,89.90 L 5.11,89.90 C 13.32,89.90 22.20,81.23 22.20,68.19 L 22.20,52" stroke-width="0.7"/><path d="M -21.50,52 L -21.50,68.19 C -21.50,81.23 -12.90,90.50 -4.95,90.50" stroke-width="1.55"/><path d="M -16.50,52 L -16.50,68.19 C -16.50,81.23 -9.90,90.50 -3.80,90.50" stroke-width="1.55"/><path d="M -6.30,52 L -6.30,68.19 C -6.30,81.23 -3.78,90.50 -1.45,90.50" stroke-width="1.55"/><path d="M 5.00,52 L 5.00,68.19 C 5.00,81.23 3.00,90.50 1.15,90.50" stroke-width="1.55"/><path d="M 15.60,52 L 15.60,68.19 C 15.60,81.23 9.36,90.50 3.59,90.50" stroke-width="1.55"/><path d="M 21.30,52 L 21.30,68.19 C 21.30,81.23 12.78,90.50 4.90,90.50" stroke-width="1.55"/><path d="M -24.6,63.9 L 24.6,63.9" stroke-width="1.9500000000000002"/><path d="M -23.6,63.9 L 23.6,63.9" stroke="#fff" stroke-width="0.35"/><path d="M -23.4,75.2 L 23.4,75.2" stroke-width="1.9500000000000002"/><path d="M -22.4,75.2 L 22.4,75.2" stroke="#fff" stroke-width="0.35"/></g>
<rect x="119.20" y="809.20" width="11.80" height="3.30" rx="0.8" stroke="#352f2d" stroke-width="0.9" fill="#fff"/>
<rect x="119.20" y="829.60" width="11.80" height="3.30" rx="0.8" stroke="#352f2d" stroke-width="0.9" fill="#fff"/>
<line x1="113.40" y1="643.30" x2="158.80" y2="643.30" stroke="#352f2d" stroke-width="0.6" />
<line x1="113.20" y1="853.20" x2="122.40" y2="853.20" stroke="#352f2d" stroke-width="0.6" />
<line x1="114.70" y1="643.30" x2="114.70" y2="853.20" stroke="#352f2d" stroke-width="0.6" />
<path d="M 114.70,643.30 L 115.60,647.50 L 113.80,647.50 Z" fill="#352f2d" stroke="none"/>
<path d="M 114.70,853.20 L 113.80,849.00 L 115.60,849.00 Z" fill="#352f2d" stroke="none"/>
<text transform="translate(112.60,758.70) rotate(-90)" x="0" y="0" font-size="10" fill="#2b2624" font-family='"Liberation Sans","Noto Sans CJK SC",sans-serif' textLength="20.4" lengthAdjust="spacingAndGlyphs">2300</text>
<rect x="122.20" y="853.20" width="5.00" height="3.40" rx="0" stroke="#352f2d" stroke-width="0.9" fill="#352f2d"/>
<rect x="122.80" y="854.50" width="4.40" height="6.50" rx="0" stroke="#352f2d" stroke-width="0.9" fill="#fff"/>
<line x1="122.20" y1="856.10" x2="127.80" y2="856.10" stroke="#352f2d" stroke-width="1.0" />
<line x1="122.20" y1="854.70" x2="127.80" y2="854.70" stroke="#352f2d" stroke-width="1.0" />
<rect x="122.80" y="869.80" width="4.40" height="5.20" rx="0" stroke="#352f2d" stroke-width="0.9" fill="#fff"/>
<line x1="122.20" y1="873.40" x2="127.80" y2="873.40" stroke="#352f2d" stroke-width="1.0" />
<line x1="122.20" y1="874.80" x2="127.80" y2="874.80" stroke="#352f2d" stroke-width="1.0" />
<rect x="115.40" y="863.20" width="5.20" height="4.40" rx="0" stroke="#352f2d" stroke-width="0.9" fill="#fff"/>
<line x1="117.00" y1="862.60" x2="117.00" y2="868.20" stroke="#352f2d" stroke-width="1.0" />
<line x1="115.60" y1="862.60" x2="115.60" y2="868.20" stroke="#352f2d" stroke-width="1.0" />
<rect x="129.40" y="863.20" width="5.20" height="4.40" rx="0" stroke="#352f2d" stroke-width="0.9" fill="#fff"/>
<line x1="133.00" y1="862.60" x2="133.00" y2="868.20" stroke="#352f2d" stroke-width="1.0" />
<line x1="134.40" y1="862.60" x2="134.40" y2="868.20" stroke="#352f2d" stroke-width="1.0" />
<circle cx="125.00" cy="865.40" r="5.40" stroke="#352f2d" stroke-width="1.2" fill="#fff"/>
<circle cx="125.00" cy="865.40" r="4.64" stroke="#352f2d" stroke-width="0.8" fill="none"/>
<circle cx="125.00" cy="865.24" r="2.05" stroke="#352f2d" stroke-width="1.4" fill="none"/>
<path d="M 121.65,867.67 Q 125.00,870.69 128.35,867.67 M 121.65,867.67 L 123.70,866.75 M 128.35,867.67 L 126.30,866.75" stroke="#352f2d" stroke-width="1.4" fill="none" />
<line x1="122.60" y1="871.00" x2="127.40" y2="876.00" stroke="#352f2d" stroke-width="1.2" />
<text y="910.30" font-size="13" fill="#2b2624" font-family='"Liberation Sans","Noto Sans CJK SC",sans-serif'><tspan x="107.10">d</tspan><tspan x="113.90" font-size="11.4" fill="#6f6a68" font-family='"Noto Sans CJK SC",sans-serif'>□</tspan><tspan x="125.30" textLength="13.9" lengthAdjust="spacingAndGlyphs">86</tspan><tspan x="140.60" font-size="12.6" font-family='"Liberation Serif",serif' textLength="10.4" lengthAdjust="spacingAndGlyphs">III</tspan></text>
<text x="98.20" y="926.10" font-size="12" text-anchor="start" fill="#2b2624" font-weight="300" font-family='"Liberation Sans","Noto Sans CJK SC",sans-serif' textLength="64.3">护栏式(h1)</text>
<path d="M 294.9,874.3 L 294.9,670.2 C 294.9,653.2 301.4,642.8000000000001 313.4,642.8000000000001 C 321.4,642.8000000000001 326.4,646.7 330.4,652.4000000000001" stroke="#352f2d" stroke-width="4.45" fill="none" stroke-linecap="butt" stroke-linejoin="round"/>
<path d="M 294.9,874.3 L 294.9,670.2 C 294.9,653.2 301.4,642.8000000000001 313.4,642.8000000000001 C 321.4,642.8000000000001 326.4,646.7 330.4,652.4000000000001" stroke="#fff" stroke-width="2.75" fill="none" stroke-linecap="butt" stroke-linejoin="round"/>
<rect x="292.30" y="690.20" width="5.40" height="5.30" rx="0.8" stroke="#352f2d" stroke-width="0.9" fill="#fff"/>
<g transform="translate(329.60,653.40) rotate(-36)" stroke="#352f2d" fill="#fff"><rect x="-3.6" y="0" width="7.2" height="11" stroke-width="1"/><rect x="-4.3" y="0.8" width="8.6" height="2.6" stroke-width="1" fill="#352f2d"/><path d="M -4.6,6 L 4.6,6" stroke-width="1.1"/></g>
<g transform="translate(336.20,661.20) rotate(-27.5) scale(0.9100,0.9100)" fill="none" stroke="#352f2d" stroke-width="1.05" stroke-linecap="round" stroke-linejoin="round"><path d="M -27.8,17 C -27.4,9 -21,1.2 -9,0 L 9,0 C 21,1.2 27.4,9 27.8,17 Z" fill="#fff"/><path d="M -2.6,0.9 L -3.4,16.5" stroke-width="1.9"/><path d="M 2.6,0.9 L 3.4,16.5" stroke-width="1.9"/><path d="M -6.6,1.3 L -8.8,16.5" stroke-width="1.9"/><path d="M 6.6,1.3 L 8.8,16.5" stroke-width="1.9"/><path d="M -10.4,2.1 L -14.0,16.5" stroke-width="1.9"/><path d="M 10.4,2.1 L 14.0,16.5" stroke-width="1.9"/><path d="M -14.0,3.2 L -19.0,16.5" stroke-width="1.9"/><path d="M 14.0,3.2 L 19.0,16.5" stroke-width="1.9"/><path d="M -17.6,4.6 L -23.2,16.5" stroke-width="1.9"/><path d="M 17.6,4.6 L 23.2,16.5" stroke-width="1.9"/><path d="M -21.4,6.4 L -26.2,16.5" stroke-width="1.9"/><path d="M 21.4,6.4 L 26.2,16.5" stroke-width="1.9"/><rect x="-29" y="17" width="58" height="2.8" rx="0.8" fill="#fff"/><path d="M -28,19.8 L -28,25.6 Q -28,26.7 -26.8,26.7 L 27,26.7 Q 28.2,26.7 28.2,25.6 L 28.2,19.8" fill="#fff"/><rect x="-25.8" y="26.7" width="51.8" height="11.6" fill="#fff"/><path d="M -25.3,20.6 L -25.3,26.7" stroke-width="1.8"/><path d="M -22.9,20.6 L -22.9,26.7" stroke-width="1.8"/><path d="M -22.9,26.7 L -22.9,38.3" stroke-width="1.3"/><path d="M -18.1,20.6 L -18.1,26.7" stroke-width="1.8"/><path d="M -18.1,26.7 L -18.1,38.3" stroke-width="1.3"/><path d="M -9.5,20.6 L -9.5,26.7" stroke-width="1.8"/><path d="M -9.5,26.7 L -9.5,38.3" stroke-width="1.3"/><path d="M -1.8,20.6 L -1.8,26.7" stroke-width="1.8"/><path d="M -1.8,26.7 L -1.8,38.3" stroke-width="1.3"/><path d="M 6.8,20.6 L 6.8,26.7" stroke-width="1.8"/><path d="M 6.8,26.7 L 6.8,38.3" stroke-width="1.3"/><path d="M 14.5,20.6 L 14.5,26.7" stroke-width="1.8"/><path d="M 14.5,26.7 L 14.5,38.3" stroke-width="1.3"/><path d="M 19.8,20.6 L 19.8,26.7" stroke-width="1.8"/><path d="M 19.8,26.7 L 19.8,38.3" stroke-width="1.3"/><path d="M 24.1,20.6 L 24.1,26.7" stroke-width="1.8"/><path d="M 24.1,26.7 L 24.1,38.3" stroke-width="1.3"/><path d="M -16,38 Q -12,30 -3,28 M 16,38 Q 12,30 3,28 M -8,38 Q -5,31 0,30 Q 5,31 8,38 M -22,38 Q -20,32 -14,28.5 M 22,38 Q 20,32 14,28.5" stroke-width="0.8"/><path d="M -3,24.5 L 3,24.5 M 0,24.5 L 0,31" stroke-width="1.3"/><rect x="-26.6" y="38.3" width="53.4" height="13.7" rx="1" fill="#fff"/><path d="M -26.6,45.9 L 26.8,45.9"/><path d="M -24.00,52 L -24.00,68.19 C -24.00,81.23 -14.40,91.50 -5.52,91.50 L 5.52,91.50 C 14.40,91.50 24.00,81.23 24.00,68.19 L 24.00,52" stroke-width="1.1"/><path d="M -22.20,52 L -22.20,68.19 C -22.20,81.23 -13.32,89.90 -5.11,89.90 L 5.11,89.90 C 13.32,89.90 22.20,81.23 22.20,68.19 L 22.20,52" stroke-width="0.7"/><path d="M -21.50,52 L -21.50,68.19 C -21.50,81.23 -12.90,90.50 -4.95,90.50" stroke-width="1.55"/><path d="M -16.50,52 L -16.50,68.19 C -16.50,81.23 -9.90,90.50 -3.80,90.50" stroke-width="1.55"/><path d="M -6.30,52 L -6.30,68.19 C -6.30,81.23 -3.78,90.50 -1.45,90.50" stroke-width="1.55"/><path d="M 5.00,52 L 5.00,68.19 C 5.00,81.23 3.00,90.50 1.15,90.50" stroke-width="1.55"/><path d="M 15.60,52 L 15.60,68.19 C 15.60,81.23 9.36,90.50 3.59,90.50" stroke-width="1.55"/><path d="M 21.30,52 L 21.30,68.19 C 21.30,81.23 12.78,90.50 4.90,90.50" stroke-width="1.55"/><path d="M -24.6,63.9 L 24.6,63.9" stroke-width="1.9500000000000002"/><path d="M -23.6,63.9 L 23.6,63.9" stroke="#fff" stroke-width="0.35"/><path d="M -23.4,75.2 L 23.4,75.2" stroke-width="1.9500000000000002"/><path d="M -22.4,75.2 L 22.4,75.2" stroke="#fff" stroke-width="0.35"/></g>
<path d="M 288.29999999999995,874.3 L 292.9,869.8 M 297.7,869.8 L 302.3,874.3 M 291.29999999999995,874.3 L 292.9,873.3 M 299.3,874.3 L 297.7,873.3" stroke="#352f2d" stroke-width="0.8" fill="none" />
<line x1="287.80" y1="874.30" x2="302.80" y2="874.30" stroke="#352f2d" stroke-width="1.5" />
<rect x="297.70" y="856.20" width="1.60" height="6.00" rx="0" stroke="#352f2d" stroke-width="0.8" fill="#fff"/>
<rect x="299.30" y="857.00" width="2.80" height="4.40" rx="0" stroke="#352f2d" stroke-width="0.8" fill="#352f2d"/>
<line x1="287.00" y1="651.70" x2="329.00" y2="651.70" stroke="#352f2d" stroke-width="0.6" />
<line x1="286.50" y1="874.30" x2="289.00" y2="874.30" stroke="#352f2d" stroke-width="0.6" />
<line x1="289.20" y1="651.70" x2="289.20" y2="874.30" stroke="#352f2d" stroke-width="0.6" />
<path d="M 289.20,651.70 L 290.10,655.90 L 288.30,655.90 Z" fill="#352f2d" stroke="none"/>
<path d="M 289.20,874.30 L 288.30,870.10 L 290.10,870.10 Z" fill="#352f2d" stroke="none"/>
<text transform="translate(286.80,773.60) rotate(-90)" x="0" y="0" font-size="10" fill="#2b2624" font-family='"Liberation Sans","Noto Sans CJK SC",sans-serif' textLength="20.4" lengthAdjust="spacingAndGlyphs">2300</text>
<text y="910.30" font-size="13" fill="#2b2624" font-family='"Liberation Sans","Noto Sans CJK SC",sans-serif'><tspan x="279.50">d</tspan><tspan x="286.30" font-size="11.4" fill="#6f6a68" font-family='"Noto Sans CJK SC",sans-serif'>□</tspan><tspan x="297.70" textLength="13.9" lengthAdjust="spacingAndGlyphs">86</tspan><tspan x="313.00" font-size="12.6" font-family='"Liberation Serif",serif' textLength="10.4" lengthAdjust="spacingAndGlyphs">III</tspan></text>
<text x="273.00" y="926.10" font-size="12" text-anchor="start" fill="#2b2624" font-weight="300" font-family='"Liberation Sans","Noto Sans CJK SC",sans-serif' textLength="65.2">法兰式(F1)</text>
<rect x="326.00" y="776.20" width="23.10" height="22.00" rx="0" stroke="#352f2d" stroke-width="0.9" fill="none"/>
<line x1="326.00" y1="785.80" x2="349.10" y2="785.80" stroke="#352f2d" stroke-width="0.5" />
<line x1="326.00" y1="789.20" x2="349.10" y2="789.20" stroke="#352f2d" stroke-width="0.5" />
<line x1="335.80" y1="776.20" x2="335.80" y2="798.20" stroke="#352f2d" stroke-width="0.5" />
<line x1="339.20" y1="776.20" x2="339.20" y2="798.20" stroke="#352f2d" stroke-width="0.5" />
<circle cx="337.50" cy="787.50" r="3.00" stroke="#352f2d" stroke-width="1.2" fill="#fff"/>
<circle cx="329.00" cy="778.90" r="0.60" stroke="#352f2d" stroke-width="0.6" fill="#352f2d"/>
<circle cx="346.30" cy="778.90" r="0.60" stroke="#352f2d" stroke-width="0.6" fill="#352f2d"/>
<circle cx="329.00" cy="795.40" r="0.60" stroke="#352f2d" stroke-width="0.6" fill="#352f2d"/>
<circle cx="346.30" cy="795.40" r="0.60" stroke="#352f2d" stroke-width="0.6" fill="#352f2d"/>
<path d="M 381.5,752.2 L 351.4,752.2 L 346.5,777.5" stroke="#352f2d" stroke-width="0.6" fill="none" />
<path d="M 346.5,777.5 L 343.5,788" stroke="#352f2d" stroke-width="0.6" fill="none" stroke-dasharray="1.5 1.2"/>
<text y="750" font-size="10" fill="#2b2624" font-family='"Liberation Sans","Noto Sans CJK SC",sans-serif'><tspan x="356.6" textLength="8.6" lengthAdjust="spacingAndGlyphs">4-</tspan><tspan x="366.6" font-size="7.6">Φ</tspan><tspan x="375.6" textLength="9.4" lengthAdjust="spacingAndGlyphs">11</tspan></text>
<line x1="349.10" y1="776.20" x2="391.00" y2="776.20" stroke="#352f2d" stroke-width="0.6" />
<line x1="349.10" y1="798.20" x2="391.00" y2="798.20" stroke="#352f2d" stroke-width="0.6" />
<line x1="346.30" y1="778.90" x2="372.00" y2="778.90" stroke="#352f2d" stroke-width="0.6" />
<line x1="346.30" y1="795.40" x2="372.00" y2="795.40" stroke="#352f2d" stroke-width="0.6" />
<line x1="370.10" y1="767.50" x2="370.10" y2="807.00" stroke="#352f2d" stroke-width="0.6" />
<path d="M 370.10,778.90 L 369.30,775.30 L 370.90,775.30 Z" fill="#352f2d" stroke="none"/>
<path d="M 370.10,795.40 L 370.90,799.00 L 369.30,799.00 Z" fill="#352f2d" stroke="none"/>
<line x1="387.60" y1="776.20" x2="387.60" y2="798.20" stroke="#352f2d" stroke-width="0.6" />
<path d="M 387.60,776.20 L 388.50,780.40 L 386.70,780.40 Z" fill="#352f2d" stroke="none"/>
<path d="M 387.60,798.20 L 386.70,794.00 L 388.50,794.00 Z" fill="#352f2d" stroke="none"/>
<text transform="translate(366.40,794.85) rotate(-90)" x="0" y="0" font-size="10" fill="#2b2624" font-family='"Liberation Sans","Noto Sans CJK SC",sans-serif' textLength="15.3" lengthAdjust="spacingAndGlyphs">100</text>
<text transform="translate(383.80,794.85) rotate(-90)" x="0" y="0" font-size="10" fill="#2b2624" font-family='"Liberation Sans","Noto Sans CJK SC",sans-serif' textLength="15.3" lengthAdjust="spacingAndGlyphs">160</text>
<line x1="329.00" y1="795.40" x2="329.00" y2="820.50" stroke="#352f2d" stroke-width="0.6" />
<line x1="346.30" y1="795.40" x2="346.30" y2="820.50" stroke="#352f2d" stroke-width="0.6" />
<line x1="317.80" y1="818.30" x2="357.50" y2="818.30" stroke="#352f2d" stroke-width="0.6" />
<path d="M 329.00,818.30 L 325.40,819.10 L 325.40,817.50 Z" fill="#352f2d" stroke="none"/>
<path d="M 346.30,818.30 L 349.90,817.50 L 349.90,819.10 Z" fill="#352f2d" stroke="none"/>
<text x="330.15" y="815.80" font-size="10" text-anchor="start" fill="#2b2624" font-weight="400" font-family='"Liberation Sans","Noto Sans CJK SC",sans-serif' textLength="15.3" lengthAdjust="spacingAndGlyphs">100</text>
<line x1="326.00" y1="798.20" x2="326.00" y2="839.00" stroke="#352f2d" stroke-width="0.6" />
<line x1="349.10" y1="798.20" x2="349.10" y2="839.00" stroke="#352f2d" stroke-width="0.6" />
<line x1="326.00" y1="837.20" x2="349.10" y2="837.20" stroke="#352f2d" stroke-width="0.6" />
<path d="M 326.00,837.20 L 330.20,836.30 L 330.20,838.10 Z" fill="#352f2d" stroke="none"/>
<path d="M 349.10,837.20 L 344.90,838.10 L 344.90,836.30 Z" fill="#352f2d" stroke="none"/>
<text x="330.15" y="835.00" font-size="10" text-anchor="start" fill="#2b2624" font-weight="400" font-family='"Liberation Sans","Noto Sans CJK SC",sans-serif' textLength="15.3" lengthAdjust="spacingAndGlyphs">160</text>
<text x="319.80" y="862.60" font-size="9.3" text-anchor="start" fill="#2b2624" font-weight="300" font-family='"Liberation Sans","Noto Sans CJK SC",sans-serif' textLength="47.5">法兰示意图</text>
<rect x="457.80" y="772.80" width="3.20" height="103.60" rx="0" stroke="#352f2d" stroke-width="0.8" fill="#fff"/>
<path d="M 458.2,775 Q 459.4,771.5 461,775" stroke="#352f2d" stroke-width="0.8" fill="none"/>
<path d="M 459.99999999999994,676.2 L 459.99999999999994,721.8 Q 463.5,724.0 467.0,721.8 L 467.0,676.2" stroke="#352f2d" stroke-width="0.9" fill="#fff"/>
<path d="M 459.99999999999994,839.2 L 459.99999999999994,729.1 Q 463.5,726.4 467.0,729.1 L 467.0,839.2" stroke="#352f2d" stroke-width="0.9" fill="#fff"/>
<path d="M 457.5,678.5999999999999 L 457.5,664.4 Q 457.5,661.0 461.29999999999995,660.7 L 491.6,656.5 L 491.6,671.2 L 469.7,667.8 L 469.29999999999995,678.5999999999999 Z" stroke="#352f2d" stroke-width="1" fill="#fff" stroke-linejoin="round"/>
<rect x="474.30" y="661.80" width="14.30" height="4.10" rx="0.8" stroke="#352f2d" stroke-width="0.9" fill="none"/>
<path d="M 470.9,669.5 L 491.6,672.5 M 470.09999999999997,668.0 L 470.9,669.5" stroke="#352f2d" stroke-width="0.8" fill="none" />
<circle cx="472.20" cy="670.50" r="0.70" stroke="#352f2d" stroke-width="0.7" fill="none"/>
<g transform="translate(520.40,657.00) rotate(0) scale(-0.8100,0.8100)" fill="none" stroke="#352f2d" stroke-width="1.05" stroke-linecap="round" stroke-linejoin="round"><path d="M -27.8,17 L -27.3,11 C -26.3,4 -23,0.6 -17,0 L 17,0 C 23,0.6 26.3,4 27.3,11 L 27.8,17 Z" fill="#fff"/><path d="M -23.5,3.08 L -25.8,16.5" stroke-width="1.9"/><path d="M -19.3,2.7439999999999998 L -21.8,16.5" stroke-width="1.9"/><path d="M -14.8,2.3840000000000003 L -17,16.5" stroke-width="1.9"/><path d="M -10.2,2.016 L -11.6,16.5" stroke-width="1.9"/><path d="M 10.2,2.016 L 11.6,16.5" stroke-width="1.9"/><path d="M 14.8,2.3840000000000003 L 17,16.5" stroke-width="1.9"/><path d="M 19.3,2.7439999999999998 L 21.8,16.5" stroke-width="1.9"/><path d="M 23.5,3.08 L 25.8,16.5" stroke-width="1.9"/><path d="M -6.2,1.4 L -7,16.5" stroke-width="1.9"/><path d="M 6.2,1.4 L 7,16.5" stroke-width="1.9"/><rect x="-3.4" y="5.2" width="6.8" height="6.6" rx="0.8" fill="#fff" stroke-width="1.5"/><rect x="-1.2" y="7.2" width="2.4" height="2.6" fill="#352f2d" stroke="none"/><path d="M 18,17 L 18,5 Q 18,-0.5 23,-0.5 L 33.5,-0.5 L 33.5,19 L 28,19" fill="#fff"/><rect x="33.2" y="0.6" width="3" height="18" rx="0.8" fill="#fff"/><circle cx="28.3" cy="9" r="3.8" fill="#fff" stroke-width="1.3"/><circle cx="28.3" cy="9" r="1.9" stroke-width="1"/><rect x="-29" y="17" width="58" height="2.8" rx="0.8" fill="#fff"/><path d="M -28,19.8 L -28,25.6 Q -28,26.7 -26.8,26.7 L 27,26.7 Q 28.2,26.7 28.2,25.6 L 28.2,19.8" fill="#fff"/><rect x="-25.8" y="26.7" width="51.8" height="11.6" fill="#fff"/><path d="M -25.3,20.6 L -25.3,26.7" stroke-width="1.8"/><path d="M -22.9,20.6 L -22.9,26.7" stroke-width="1.8"/><path d="M -22.9,26.7 L -22.9,38.3" stroke-width="1.3"/><path d="M -18.1,20.6 L -18.1,26.7" stroke-width="1.8"/><path d="M -18.1,26.7 L -18.1,38.3" stroke-width="1.3"/><path d="M -9.5,20.6 L -9.5,26.7" stroke-width="1.8"/><path d="M -9.5,26.7 L -9.5,38.3" stroke-width="1.3"/><path d="M -1.8,20.6 L -1.8,26.7" stroke-width="1.8"/><path d="M -1.8,26.7 L -1.8,38.3" stroke-width="1.3"/><path d="M 6.8,20.6 L 6.8,26.7" stroke-width="1.8"/><path d="M 6.8,26.7 L 6.8,38.3" stroke-width="1.3"/><path d="M 14.5,20.6 L 14.5,26.7" stroke-width="1.8"/><path d="M 14.5,26.7 L 14.5,38.3" stroke-width="1.3"/><path d="M 19.8,20.6 L 19.8,26.7" stroke-width="1.8"/><path d="M 19.8,26.7 L 19.8,38.3" stroke-width="1.3"/><path d="M 24.1,20.6 L 24.1,26.7" stroke-width="1.8"/><path d="M 24.1,26.7 L 24.1,38.3" stroke-width="1.3"/><path d="M -16,38 Q -12,30 -3,28 M 16,38 Q 12,30 3,28 M -8,38 Q -5,31 0,30 Q 5,31 8,38 M -22,38 Q -20,32 -14,28.5 M 22,38 Q 20,32 14,28.5" stroke-width="0.8"/><path d="M -3,24.5 L 3,24.5 M 0,24.5 L 0,31" stroke-width="1.3"/><rect x="-26.6" y="38.3" width="53.4" height="13.7" rx="1" fill="#fff"/><path d="M -26.6,45.9 L 26.8,45.9"/><path d="M -24.00,52 L -24.00,68.19 C -24.00,81.23 -14.40,91.50 -5.52,91.50 L 5.52,91.50 C 14.40,91.50 24.00,81.23 24.00,68.19 L 24.00,52" stroke-width="1.1"/><path d="M -22.20,52 L -22.20,68.19 C -22.20,81.23 -13.32,89.90 -5.11,89.90 L 5.11,89.90 C 13.32,89.90 22.20,81.23 22.20,68.19 L 22.20,52" stroke-width="0.7"/><path d="M -21.50,52 L -21.50,68.19 C -21.50,81.23 -12.90,90.50 -4.95,90.50" stroke-width="1.55"/><path d="M -16.50,52 L -16.50,68.19 C -16.50,81.23 -9.90,90.50 -3.80,90.50" stroke-width="1.55"/><path d="M -6.30,52 L -6.30,68.19 C -6.30,81.23 -3.78,90.50 -1.45,90.50" stroke-width="1.55"/><path d="M 5.00,52 L 5.00,68.19 C 5.00,81.23 3.00,90.50 1.15,90.50" stroke-width="1.55"/><path d="M 15.60,52 L 15.60,68.19 C 15.60,81.23 9.36,90.50 3.59,90.50" stroke-width="1.55"/><path d="M 21.30,52 L 21.30,68.19 C 21.30,81.23 12.78,90.50 4.90,90.50" stroke-width="1.55"/><path d="M -24.6,63.9 L 24.6,63.9" stroke-width="1.9500000000000002"/><path d="M -23.6,63.9 L 23.6,63.9" stroke="#fff" stroke-width="0.35"/><path d="M -23.4,75.2 L 23.4,75.2" stroke-width="1.9500000000000002"/><path d="M -22.4,75.2 L 22.4,75.2" stroke="#fff" stroke-width="0.35"/></g>
<rect x="455.30" y="784.60" width="17.80" height="4.00" rx="1" stroke="#352f2d" stroke-width="0.9" fill="#fff"/>
<rect x="455.30" y="818.80" width="17.80" height="3.80" rx="1" stroke="#352f2d" stroke-width="0.9" fill="#fff"/>
<path d="M 460.70,843.60 L 461.70,851.10 L 466.90,851.10 L 467.90,843.60 Z" stroke="#352f2d" stroke-width="0.9" fill="#fff" />
<rect x="448.70" y="855.20" width="8.20" height="6.60" rx="0" stroke="#352f2d" stroke-width="0.9" fill="#fff"/>
<line x1="449.50" y1="854.90" x2="449.50" y2="862.10" stroke="#352f2d" stroke-width="1.7" />
<rect x="471.70" y="855.20" width="8.20" height="6.60" rx="0" stroke="#352f2d" stroke-width="0.9" fill="#fff"/>
<line x1="479.10" y1="854.90" x2="479.10" y2="862.10" stroke="#352f2d" stroke-width="1.7" />
<line x1="456.45" y1="850.65" x2="458.85" y2="853.05" stroke="#352f2d" stroke-width="2.2" />
<line x1="469.75" y1="863.95" x2="472.15" y2="866.35" stroke="#352f2d" stroke-width="2.2" />
<circle cx="464.30" cy="858.50" r="8.40" stroke="#352f2d" stroke-width="1.3" fill="#fff"/>
<circle cx="464.30" cy="858.50" r="7.06" stroke="#352f2d" stroke-width="0.8" fill="none"/>
<path d="M 460.70,862.70 Q 461.50,860.10 463.30,860.70 Q 464.30,861.50 465.30,860.70 Q 467.10,860.10 467.90,862.70" stroke="#352f2d" stroke-width="1.3" fill="none" />
<path d="M 459.70,863.10 Q 464.30,865.90 468.90,863.10" stroke="#352f2d" stroke-width="1.0" fill="none" />
<rect x="460.20" y="839.60" width="8.20" height="4.20" rx="1.6" stroke="#352f2d" stroke-width="1.0" fill="#fff"/>
<line x1="460.40" y1="841.70" x2="468.20" y2="841.70" stroke="#352f2d" stroke-width="1.6" />
<text x="464.30" y="856.60" font-size="2.6" text-anchor="middle" fill="#2b2624" font-weight="400" font-family='"Liberation Sans","Noto Sans CJK SC",sans-serif' >BHD</text>
<line x1="441.60" y1="664.60" x2="455.00" y2="664.60" stroke="#352f2d" stroke-width="0.6" />
<line x1="442.50" y1="839.20" x2="460.30" y2="839.20" stroke="#352f2d" stroke-width="0.6" />
<line x1="444.50" y1="664.60" x2="444.50" y2="839.20" stroke="#352f2d" stroke-width="0.6" />
<path d="M 444.50,664.60 L 445.40,668.80 L 443.60,668.80 Z" fill="#352f2d" stroke="none"/>
<path d="M 444.50,839.20 L 443.60,835.00 L 445.40,835.00 Z" fill="#352f2d" stroke="none"/>
<text transform="translate(442.90,762.70) rotate(-90)" x="0" y="0" font-size="10" fill="#2b2624" font-family='"Liberation Sans","Noto Sans CJK SC",sans-serif' textLength="20.4" lengthAdjust="spacingAndGlyphs">2550</text>
<text y="909.90" font-size="13" fill="#2b2624" font-family='"Liberation Sans","Noto Sans CJK SC",sans-serif'><tspan x="443.30">d</tspan><tspan x="450.10" font-size="11.4" fill="#6f6a68" font-family='"Noto Sans CJK SC",sans-serif'>□</tspan><tspan x="461.50" textLength="13.9" lengthAdjust="spacingAndGlyphs">86</tspan><tspan x="476.80" font-size="12.6" font-family='"Liberation Serif",serif' textLength="10.2" lengthAdjust="spacingAndGlyphs">IV</tspan></text>
<text x="434.60" y="926.10" font-size="12" text-anchor="start" fill="#2b2624" font-weight="300" font-family='"Liberation Sans","Noto Sans CJK SC",sans-serif' textLength="63.6">护栏式(h2)</text>
<rect x="615.40" y="772.80" width="3.20" height="103.60" rx="0" stroke="#352f2d" stroke-width="0.8" fill="#fff"/>
<path d="M 615.8,775 Q 617.0,771.5 618.6,775" stroke="#352f2d" stroke-width="0.8" fill="none"/>
<path d="M 618.2,677 L 618.2,721.3 Q 621.6500000000001,723.5 625.1,721.3 L 625.1,677" stroke="#352f2d" stroke-width="0.9" fill="#fff"/>
<path d="M 618.2,839.2 L 618.2,729.1 Q 621.6500000000001,726.4 625.1,729.1 L 625.1,839.2" stroke="#352f2d" stroke-width="0.9" fill="#fff"/>
<path d="M 621.6,659.7 L 641.2,645.8 L 647.7,659.5 L 626.9000000000001,669 Z" stroke="#352f2d" stroke-width="0.9" fill="#fff"/>
<rect x="0" y="0" width="10.5" height="3.6" transform="translate(628.2,658.2) rotate(-27)" stroke="#352f2d" stroke-width="0.8" fill="none"/>
<path d="M 628.7,666.6 L 645.2,658.5" stroke="#352f2d" stroke-width="0.7" fill="none" />
<circle cx="630.00" cy="668.00" r="0.80" stroke="#352f2d" stroke-width="0.7" fill="none"/>
<path d="M 615.4000000000001,678.4 L 615.4000000000001,664.4 L 621.6,659.7 L 626.9000000000001,669 L 626.9000000000001,678.4 Z" stroke="#352f2d" stroke-width="0.9" fill="#fff" stroke-linejoin="round"/>
<g transform="translate(662.80,637.40) rotate(-24.5) scale(-0.7900,0.7900)" fill="none" stroke="#352f2d" stroke-width="1.05" stroke-linecap="round" stroke-linejoin="round"><path d="M -27.8,17 L -27.3,11 C -26.3,4 -23,0.6 -17,0 L 17,0 C 23,0.6 26.3,4 27.3,11 L 27.8,17 Z" fill="#fff"/><path d="M -23.5,3.08 L -25.8,16.5" stroke-width="1.9"/><path d="M -19.3,2.7439999999999998 L -21.8,16.5" stroke-width="1.9"/><path d="M -14.8,2.3840000000000003 L -17,16.5" stroke-width="1.9"/><path d="M -10.2,2.016 L -11.6,16.5" stroke-width="1.9"/><path d="M 10.2,2.016 L 11.6,16.5" stroke-width="1.9"/><path d="M 14.8,2.3840000000000003 L 17,16.5" stroke-width="1.9"/><path d="M 19.3,2.7439999999999998 L 21.8,16.5" stroke-width="1.9"/><path d="M 23.5,3.08 L 25.8,16.5" stroke-width="1.9"/><path d="M -6.2,1.4 L -7,16.5" stroke-width="1.9"/><path d="M 6.2,1.4 L 7,16.5" stroke-width="1.9"/><rect x="-3.4" y="5.2" width="6.8" height="6.6" rx="0.8" fill="#fff" stroke-width="1.5"/><rect x="-1.2" y="7.2" width="2.4" height="2.6" fill="#352f2d" stroke="none"/><path d="M 18,17 L 18,5 Q 18,-0.5 23,-0.5 L 33.5,-0.5 L 33.5,19 L 28,19" fill="#fff"/><rect x="33.2" y="0.6" width="3" height="18" rx="0.8" fill="#fff"/><circle cx="28.3" cy="9" r="3.8" fill="#fff" stroke-width="1.3"/><circle cx="28.3" cy="9" r="1.9" stroke-width="1"/><rect x="-29" y="17" width="58" height="2.8" rx="0.8" fill="#fff"/><path d="M -28,19.8 L -28,25.6 Q -28,26.7 -26.8,26.7 L 27,26.7 Q 28.2,26.7 28.2,25.6 L 28.2,19.8" fill="#fff"/><rect x="-25.8" y="26.7" width="51.8" height="11.6" fill="#fff"/><path d="M -25.3,20.6 L -25.3,26.7" stroke-width="1.8"/><path d="M -22.9,20.6 L -22.9,26.7" stroke-width="1.8"/><path d="M -22.9,26.7 L -22.9,38.3" stroke-width="1.3"/><path d="M -18.1,20.6 L -18.1,26.7" stroke-width="1.8"/><path d="M -18.1,26.7 L -18.1,38.3" stroke-width="1.3"/><path d="M -9.5,20.6 L -9.5,26.7" stroke-width="1.8"/><path d="M -9.5,26.7 L -9.5,38.3" stroke-width="1.3"/><path d="M -1.8,20.6 L -1.8,26.7" stroke-width="1.8"/><path d="M -1.8,26.7 L -1.8,38.3" stroke-width="1.3"/><path d="M 6.8,20.6 L 6.8,26.7" stroke-width="1.8"/><path d="M 6.8,26.7 L 6.8,38.3" stroke-width="1.3"/><path d="M 14.5,20.6 L 14.5,26.7" stroke-width="1.8"/><path d="M 14.5,26.7 L 14.5,38.3" stroke-width="1.3"/><path d="M 19.8,20.6 L 19.8,26.7" stroke-width="1.8"/><path d="M 19.8,26.7 L 19.8,38.3" stroke-width="1.3"/><path d="M 24.1,20.6 L 24.1,26.7" stroke-width="1.8"/><path d="M 24.1,26.7 L 24.1,38.3" stroke-width="1.3"/><path d="M -16,38 Q -12,30 -3,28 M 16,38 Q 12,30 3,28 M -8,38 Q -5,31 0,30 Q 5,31 8,38 M -22,38 Q -20,32 -14,28.5 M 22,38 Q 20,32 14,28.5" stroke-width="0.8"/><path d="M -3,24.5 L 3,24.5 M 0,24.5 L 0,31" stroke-width="1.3"/><rect x="-26.6" y="38.3" width="53.4" height="13.7" rx="1" fill="#fff"/><path d="M -26.6,45.9 L 26.8,45.9"/><path d="M -24.00,52 L -24.00,68.19 C -24.00,81.23 -14.40,91.50 -5.52,91.50 L 5.52,91.50 C 14.40,91.50 24.00,81.23 24.00,68.19 L 24.00,52" stroke-width="1.1"/><path d="M -22.20,52 L -22.20,68.19 C -22.20,81.23 -13.32,89.90 -5.11,89.90 L 5.11,89.90 C 13.32,89.90 22.20,81.23 22.20,68.19 L 22.20,52" stroke-width="0.7"/><path d="M -21.50,52 L -21.50,68.19 C -21.50,81.23 -12.90,90.50 -4.95,90.50" stroke-width="1.55"/><path d="M -16.50,52 L -16.50,68.19 C -16.50,81.23 -9.90,90.50 -3.80,90.50" stroke-width="1.55"/><path d="M -6.30,52 L -6.30,68.19 C -6.30,81.23 -3.78,90.50 -1.45,90.50" stroke-width="1.55"/><path d="M 5.00,52 L 5.00,68.19 C 5.00,81.23 3.00,90.50 1.15,90.50" stroke-width="1.55"/><path d="M 15.60,52 L 15.60,68.19 C 15.60,81.23 9.36,90.50 3.59,90.50" stroke-width="1.55"/><path d="M 21.30,52 L 21.30,68.19 C 21.30,81.23 12.78,90.50 4.90,90.50" stroke-width="1.55"/><path d="M -24.6,63.9 L 24.6,63.9" stroke-width="1.9500000000000002"/><path d="M -23.6,63.9 L 23.6,63.9" stroke="#fff" stroke-width="0.35"/><path d="M -23.4,75.2 L 23.4,75.2" stroke-width="1.9500000000000002"/><path d="M -22.4,75.2 L 22.4,75.2" stroke="#fff" stroke-width="0.35"/></g>
<path d="M 626.0,705.5 Q 648.2,705 668.8000000000001,698.8" stroke="#352f2d" stroke-width="0.6" fill="none" />
<path d="M 625.60,705.50 L 629.60,704.70 L 629.60,706.30 Z" fill="#352f2d" stroke="none"/>
<text transform="translate(643.80,700.00) rotate(-13)" font-size="10" fill="#2b2624" font-family='"Liberation Sans","Noto Sans CJK SC",sans-serif'>25<tspan dy="-2.2" font-size="8.5" fill="#7a7573">°</tspan></text>
<rect x="612.70" y="784.60" width="18.20" height="4.00" rx="1" stroke="#352f2d" stroke-width="0.9" fill="#fff"/>
<rect x="612.70" y="818.80" width="18.20" height="3.80" rx="1" stroke="#352f2d" stroke-width="0.9" fill="#fff"/>
<path d="M 618.20,843.60 L 619.20,851.10 L 624.40,851.10 L 625.40,843.60 Z" stroke="#352f2d" stroke-width="0.9" fill="#fff" />
<rect x="606.20" y="855.20" width="8.20" height="6.60" rx="0" stroke="#352f2d" stroke-width="0.9" fill="#fff"/>
<line x1="607.00" y1="854.90" x2="607.00" y2="862.10" stroke="#352f2d" stroke-width="1.7" />
<rect x="629.20" y="855.20" width="8.20" height="6.60" rx="0" stroke="#352f2d" stroke-width="0.9" fill="#fff"/>
<line x1="636.60" y1="854.90" x2="636.60" y2="862.10" stroke="#352f2d" stroke-width="1.7" />
<line x1="613.95" y1="850.65" x2="616.35" y2="853.05" stroke="#352f2d" stroke-width="2.2" />
<line x1="627.25" y1="863.95" x2="629.65" y2="866.35" stroke="#352f2d" stroke-width="2.2" />
<circle cx="621.80" cy="858.50" r="8.40" stroke="#352f2d" stroke-width="1.3" fill="#fff"/>
<circle cx="621.80" cy="858.50" r="7.06" stroke="#352f2d" stroke-width="0.8" fill="none"/>
<path d="M 618.20,862.70 Q 619.00,860.10 620.80,860.70 Q 621.80,861.50 622.80,860.70 Q 624.60,860.10 625.40,862.70" stroke="#352f2d" stroke-width="1.3" fill="none" />
<path d="M 617.20,863.10 Q 621.80,865.90 626.40,863.10" stroke="#352f2d" stroke-width="1.0" fill="none" />
<rect x="617.70" y="839.60" width="8.20" height="4.20" rx="1.6" stroke="#352f2d" stroke-width="1.0" fill="#fff"/>
<line x1="617.90" y1="841.70" x2="625.70" y2="841.70" stroke="#352f2d" stroke-width="1.6" />
<text x="621.80" y="856.60" font-size="2.6" text-anchor="middle" fill="#2b2624" font-weight="400" font-family='"Liberation Sans","Noto Sans CJK SC",sans-serif' >BHD</text>
<line x1="601.60" y1="665.30" x2="614.90" y2="665.30" stroke="#352f2d" stroke-width="0.6" />
<line x1="602.50" y1="839.20" x2="618.00" y2="839.20" stroke="#352f2d" stroke-width="0.6" />
<line x1="604.20" y1="665.30" x2="604.20" y2="839.20" stroke="#352f2d" stroke-width="0.6" />
<path d="M 604.20,665.30 L 605.10,669.50 L 603.30,669.50 Z" fill="#352f2d" stroke="none"/>
<path d="M 604.20,839.20 L 603.30,835.00 L 605.10,835.00 Z" fill="#352f2d" stroke="none"/>
<text transform="translate(602.70,762.70) rotate(-90)" x="0" y="0" font-size="10" fill="#2b2624" font-family='"Liberation Sans","Noto Sans CJK SC",sans-serif' textLength="20.4" lengthAdjust="spacingAndGlyphs">2550</text>
<text y="909.90" font-size="13" fill="#2b2624" font-family='"Liberation Sans","Noto Sans CJK SC",sans-serif'><tspan x="594.30">d</tspan><tspan x="601.10" font-size="11.4" fill="#6f6a68" font-family='"Noto Sans CJK SC",sans-serif'>□</tspan><tspan x="612.50" textLength="13.9" lengthAdjust="spacingAndGlyphs">86</tspan><tspan x="627.80" font-size="12.6" font-family='"Liberation Serif",serif' textLength="10.2" lengthAdjust="spacingAndGlyphs">IV</tspan></text>
<text x="585.40" y="926.10" font-size="12" text-anchor="start" fill="#2b2624" font-weight="300" font-family='"Liberation Sans","Noto Sans CJK SC",sans-serif' textLength="64.2">护栏式(h3)</text>
</g></svg>
</body></html>
